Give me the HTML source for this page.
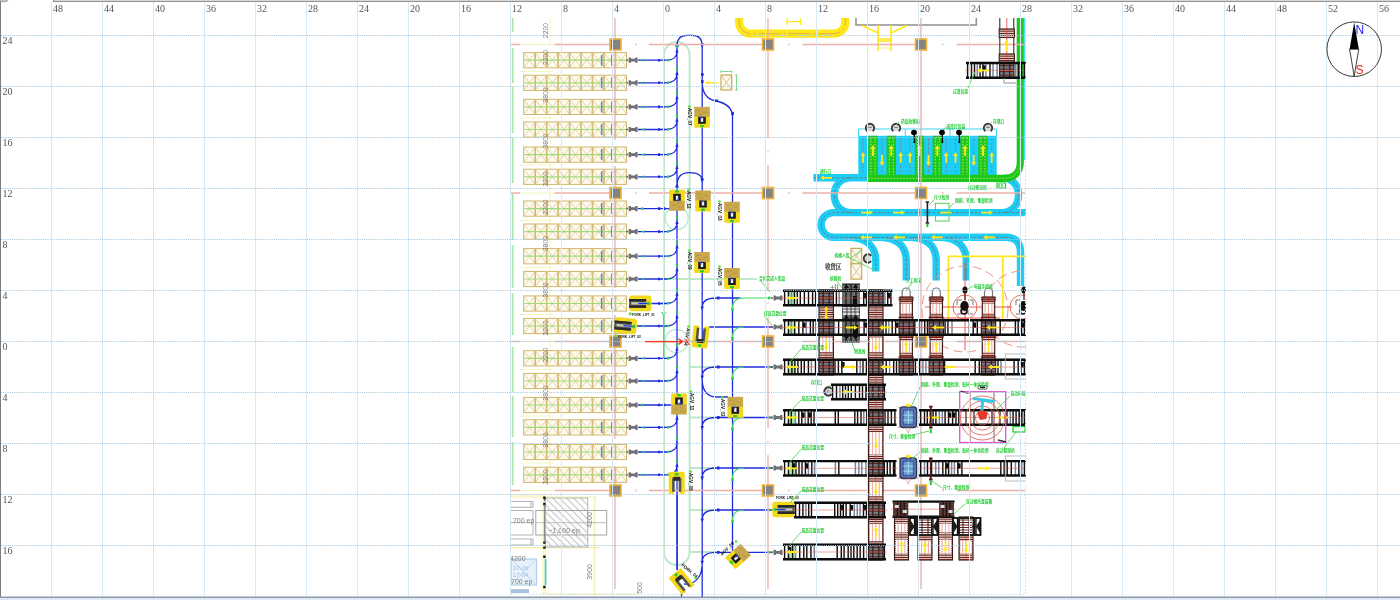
<!DOCTYPE html>
<html lang="zh"><head><meta charset="utf-8"><title>AGV layout</title>
<style>html,body{margin:0;padding:0;background:#fff;overflow:hidden}svg{display:block}</style></head>
<body><svg width="1400" height="600" viewBox="0 0 1400 600">
<rect width="1400" height="600" fill="#fff"/>
<defs>
<filter id="bl" x="-2%" y="-2%" width="104%" height="104%"><feGaussianBlur stdDeviation="0.7"/></filter>
<g id="rack">
 <rect x="0" y="-7.6" width="102.8" height="15.2" fill="#fdfaef" stroke="#d0b56c" stroke-width="1"/>
 <path d="M0,-7.6 L11.47,7.6 M0,7.6 L11.47,-7.6 M11.47,-7.6 L22.93,7.6 M11.47,7.6 L22.93,-7.6 M22.93,-7.6 L34.4,7.6 M22.93,7.6 L34.4,-7.6 M34.4,-7.6 L45.87,7.6 M34.4,7.6 L45.87,-7.6 M45.87,-7.6 L57.33,7.6 M45.87,7.6 L57.33,-7.6 M57.33,-7.6 L68.8,7.6 M57.33,7.6 L68.8,-7.6 M68.8,-7.6 L80.27,7.6 M68.8,7.6 L80.27,-7.6 M80.27,-7.6 L91.73,7.6 M80.27,7.6 L91.73,-7.6 M91.73,-7.6 L103.2,7.6 M91.73,7.6 L103.2,-7.6" stroke="#dcc68c" stroke-width="0.75" fill="none"/>
 <path d="M11.47,-7.6 V7.6 M22.93,-7.6 V7.6 M34.4,-7.6 V7.6 M45.87,-7.6 V7.6 M57.33,-7.6 V7.6 M68.8,-7.6 V7.6 M80.27,-7.6 V7.6 M91.73,-7.6 V7.6" stroke="#d4ba74" stroke-width="1.7" fill="none"/>
 <path d="M1,0 H102" stroke="#9fdc78" stroke-width="1.2"/>
 <path d="M78,-5.5 V5.5 M88.2,-5.5 V5.5" stroke="#76869a" stroke-width="1.6"/>
</g>
<g id="stop">
 <circle cx="-1.5" cy="0" r="1" fill="#666"/>
 <path d="M0,-2.6 h2 l0.8,1.2 h3.4 l0.8,-1.2 h2 v5.2 h-2 l-0.8,-1.2 h-3.4 l-0.8,1.2 h-2 z" fill="#707070"/>
</g>
<g id="col">
 <rect x="-5.5" y="-5.5" width="11" height="11" fill="#838383" stroke="#f0b134" stroke-width="1.6"/>
</g>
<g id="agv">
 <rect x="-7.8" y="-10.5" width="15.6" height="10.5" fill="#c9a84e"/>
 <path d="M-7.8,-0.5 h15.6 v10 q0,1 -1,1 h-13.6 q-1,0 -1,-1 z" fill="#f2d91c"/>
 <path d="M-6,-7 h5 M1,-5 h4 M-3,-3 h3" stroke="#b0913e" stroke-width="0.8"/>
 <rect x="-3.8" y="-0.5" width="7.6" height="7" fill="#1a1a22"/>
 <rect x="-1.2" y="0.5" width="2.4" height="4" fill="#f5f5ff"/>
 <rect x="-2" y="-1" width="1.4" height="3" fill="#3048d0"/>
 <ellipse cx="0" cy="8.8" rx="2.2" ry="1.2" fill="#22cc33"/>
</g>
<g id="fork">
 <rect x="-11.2" y="-7.8" width="22.4" height="15.6" rx="3" fill="#f2d91c"/>
 <rect x="-11.2" y="-4.4" width="17" height="8.8" fill="#55554f"/>
 <rect x="-9" y="-1.2" width="15" height="2.4" fill="#c8c8b8"/>
 <rect x="-11.2" y="-4.4" width="17" height="2.2" fill="#2a2a2a"/>
 <rect x="-11.2" y="2.2" width="17" height="2.2" fill="#2a2a2a"/>
 <circle cx="8.3" cy="0" r="1.7" fill="#22cc33"/>
 <path d="M-2,0 H7" stroke="#2233dd" stroke-width="1.2"/>
</g>
<g id="forkv">
 <path d="M-8,-11 h5.2 v13 h5.6 v-13 h5.2 v20 q0,2 -2,2 h-12 q-2,0 -2,-2 z" fill="#f2d91c"/>
 <rect x="-4.6" y="-9" width="2.6" height="14" fill="#55554f"/>
 <rect x="2" y="-9" width="2.6" height="14" fill="#55554f"/>
 <rect x="-3.4" y="2" width="6.8" height="4" fill="#2a2a2a"/>
 <ellipse cx="0" cy="8.6" rx="2" ry="1.3" fill="#22cc33"/>
</g>
<g id="mar">
 <!-- maroon roller patch 14.4 wide x 8 tall, origin top-left -->
 <path d="M0,0.6 h14.4 M0,2.3 h14.4 M0,4 h14.4 M0,5.7 h14.4 M0,7.4 h14.4" stroke="#7a2c22" stroke-width="1.1"/>
</g>
<g id="yup"><path d="M0,-6 l2.4,4 h-1.5 v7 h-1.8 v-7 h-1.5 z" fill="#ffe81a"/></g>
<g id="ydn"><path d="M0,6 l2.4,-4 h-1.5 v-7 h-1.8 v7 h-1.5 z" fill="#ffe81a"/></g>
<g id="yud"><path d="M0,-7 l2.4,3.6 h-1.5 v6.8 h1.5 l-2.4,3.6 l-2.4,-3.6 h1.5 v-6.8 h-1.5 z" fill="#ffe81a"/></g>
<g id="ylf"><path d="M-6,0 l4,-2.4 v1.5 h8 v1.8 h-8 v1.5 z" fill="#ffe81a"/></g>
<g id="yrt"><path d="M6,0 l-4,-2.4 v1.5 h-8 v1.8 h8 v1.5 z" fill="#ffe81a"/></g>
<g id="csym">
 <circle r="3.2" fill="#d8d8d8"/>
 <path d="M2.7,3.2 A4.2,4.2 0 1 0 -2.7,3.2" fill="none" stroke="#3a3a3a" stroke-width="1.9"/>
 <path d="M-1.6,-0.6 h3.2" stroke="#555" stroke-width="0.8"/>
</g>
<g id="hook">
 <ellipse cx="0" cy="0" rx="2.9" ry="2.7" fill="#050505"/>
 <path d="M0.2,2 L0.5,9" stroke="#050505" stroke-width="1.3" fill="none"/>
 <circle cx="0.3" cy="9.6" r="1.1" fill="#050505"/>
</g>
</defs>
<clipPath id="dc"><rect x="510" y="17.5" width="515.8" height="579.5"/></clipPath>
<g clip-path="url(#dc)"><g filter="url(#bl)">
<path d="M510.5,18 V594" stroke="#bfe6d0" stroke-width="1"/>
<path d="M512.6,18 V32 M512.6,48 V83 M512.6,87 V133 M512.6,138 V183 M512.6,194 V240 M512.6,245 V288 M512.6,293 V335 M512.6,347 V392 M512.6,396 V437 M512.6,442 V485 " stroke="#a9e5a9" stroke-width="1.7" fill="none"/>
<path d="M520,44.5 H554 M550,18 V46 M520,71.4 H553 M550,71 V480 M520,118 H553 M520,165 H553 M520,193 H553 M520,220.5 H553 M520,267.5 H553 M520,314.5 H553 M520,341.5 H553 M520,369.5 H553 M520,416 H553 M520,463 H553 M520,490.5 H553 " stroke="#f5f4bc" stroke-width="1" fill="none"/>
<use href="#rack" x="523.7" y="60.2"/>
<use href="#rack" x="523.7" y="82.8"/>
<use href="#rack" x="523.7" y="106.9"/>
<use href="#rack" x="523.7" y="129.5"/>
<use href="#rack" x="523.7" y="154.6"/>
<use href="#rack" x="523.7" y="176.8"/>
<use href="#rack" x="523.7" y="208.6"/>
<use href="#rack" x="523.7" y="231.6"/>
<use href="#rack" x="523.7" y="256.2"/>
<use href="#rack" x="523.7" y="279.0"/>
<use href="#rack" x="523.7" y="303.5"/>
<use href="#rack" x="523.7" y="326.0"/>
<use href="#rack" x="523.7" y="358.3"/>
<use href="#rack" x="523.7" y="381.0"/>
<use href="#rack" x="523.7" y="405.0"/>
<use href="#rack" x="523.7" y="427.4"/>
<use href="#rack" x="523.7" y="452.0"/>
<use href="#rack" x="523.7" y="474.8"/>
<rect x="664" y="42" width="25.6" height="523" rx="12.8" fill="none" stroke="#bfe7ca" stroke-width="2"/>
<path d="M664,279 H757 M690,367 H716 M690,417.5 H716 M690,468 H716 M690,510 H716 M690,552 H716 " stroke="#bfe7ca" stroke-width="1.8" fill="none"/>
<circle cx="676.7" cy="218" r="11.5" fill="none" stroke="#bfe7ca" stroke-width="1.4"/>
<circle cx="676.4" cy="341" r="11.5" fill="none" stroke="#bfe7ca" stroke-width="1.4"/>
<path d="M739,18 V22 A11.7,11.7 0 0 0 750.7,33.7 H834 A11.2,11.2 0 0 0 845.2,22.5 V18" fill="none" stroke="#ffe81a" stroke-width="8.2"/>
<path d="M739,18 V22 A11.7,11.7 0 0 0 750.7,33.7 H834 A11.2,11.2 0 0 0 845.2,22.5 V18" fill="none" stroke="#dca548" stroke-width="0.9" stroke-dasharray="22 3 2 3"/>
<path d="M787,18.5 V25 M800.5,18.5 V25 M787,21.7 H800.5" stroke="#ffe81a" stroke-width="1.3" fill="none"/>
<path d="M856,18 V25 H976.3 V18" stroke="#8f8f8f" stroke-width="1.5" fill="none"/>
<path d="M878,25 V51 M891,25 V51 M862,25.5 L878,33 M907,25.5 L891,33 M878,39 H891 M878,41 H891" stroke="#ffe81a" stroke-width="1.7" fill="none"/>
<path d="M878,48 H891" stroke="#f6ee8a" stroke-width="1.2" fill="none"/>
<rect x="721" y="75" width="10.7" height="15" fill="#fdf9ee" stroke="#c9a855" stroke-width="1.2"/>
<path d="M721,75 L731.7,90 M731.7,75 L721,90" stroke="#d3b873" stroke-width="0.8"/>
<path d="M721,71.5 H731.7 M721,70 V73 M731.7,70 V73 M736.5,75 V90 M735,75 H738 M735,90 H738" stroke="#7fd98a" stroke-width="1" fill="none"/>
<path d="M704.5,82.8 l4,-2 v1.3 h10 v1.4 h-10 v1.3 z" fill="#ffe81a"/>
<path d="M677,44 V570 M702.2,44 V597 M732.5,115 V551 M677,46 C677,38 681,35.3 687,35.3 H692.5 C698.5,35.3 702.2,38 702.2,46 M677,186 C677,176 682,172.6 689,172.6 C697,172.6 702.2,175 702.2,181 M702.2,82 C702.2,94 708,99.5 716,101 C726,103 732.5,108 732.5,117 M702.2,379 C702.2,390 707,396.5 716,397 H728 M638,60.2 H666.5 C672.5,60.2 677,57.2 677,51.2 M638,82.8 H666.5 C672.5,82.8 677,79.8 677,73.8 M638,106.9 H666.5 C672.5,106.9 677,103.9 677,97.9 M638,129.5 H666.5 C672.5,129.5 677,126.5 677,120.5 M638,154.6 H666.5 C672.5,154.6 677,151.6 677,145.6 M638,176.8 H666.5 C672.5,176.8 677,173.8 677,167.8 M638,208.6 H671 M638,231.6 H666.5 C672.5,231.6 677,228.6 677,222.6 M638,256.2 H666.5 C672.5,256.2 677,253.2 677,247.2 M638,279 H666.5 C672.5,279 677,276 677,270 M651,303.5 H666.5 C672.5,303.5 677,300.5 677,294.5 M637,326 H666.5 C672.5,326 677,323 677,317 M638,358.3 H666.5 C672.5,358.3 677,355.3 677,349.3 M638,381 H666.5 C672.5,381 677,378 677,372 M638,405 H671 M638,427.4 H666.5 C672.5,427.4 677,424.4 677,418.4 M638,452 H666.5 C672.5,452 677,449 677,443 M638,474.8 H666.5 C672.5,474.8 677,471.8 677,465.8 M740,298 H716 C708,298 702.2,301 702.2,307.5 M773,367 H716 C708,367 702.2,370 702.2,376.5 M773,417.5 H716 C708,417.5 702.2,420.5 702.2,427.0 M773,468 H716 C708,468 702.2,471 702.2,477.5 M773,510 H716 C708,510 702.2,513 702.2,519.5 M773,552.3 H716 C708,552.3 702.2,555.3 702.2,561.8 M773,327 H709 M684,584 C694,585 701.5,578 702,566 M681.5,590 V597 " stroke="#1f2fdc" stroke-width="1.3" fill="none"/>
<path d="M677.2,493 V570" stroke="#1f2fdc" stroke-width="1.3" fill="none"/>
<path d="M740,298 H769 M744,298 C737,298 732.5,301 732.5,308 M744,327 C737,327 732.5,330 732.5,337 M744,367 C737,367 732.5,370 732.5,377 M744,417.5 C737,417.5 732.5,420.5 732.5,427.5 M744,468 C737,468 732.5,471 732.5,478 M744,510 C737,510 732.5,513 732.5,520 " stroke="#3fd868" stroke-width="1.2" fill="none"/>
<path d="M677,48.7 l1.7,3.8 h-3.4 z M677,71.3 l1.7,3.8 h-3.4 z M677,95.4 l1.7,3.8 h-3.4 z M677,118.0 l1.7,3.8 h-3.4 z M677,143.1 l1.7,3.8 h-3.4 z M677,165.3 l1.7,3.8 h-3.4 z M677,220.1 l1.7,3.8 h-3.4 z M677,244.7 l1.7,3.8 h-3.4 z M677,267.5 l1.7,3.8 h-3.4 z M677,292.0 l1.7,3.8 h-3.4 z M677,314.5 l1.7,3.8 h-3.4 z M677,346.8 l1.7,3.8 h-3.4 z M677,369.5 l1.7,3.8 h-3.4 z M677,415.9 l1.7,3.8 h-3.4 z M677,440.5 l1.7,3.8 h-3.4 z M677,463.3 l1.7,3.8 h-3.4 z M702.2,310.5 l1.8,-4 h-3.6 z M702.2,379.5 l1.8,-4 h-3.6 z M702.2,430.0 l1.8,-4 h-3.6 z M702.2,480.5 l1.8,-4 h-3.6 z M702.2,522.5 l1.8,-4 h-3.6 z M702.2,564.8 l1.8,-4 h-3.6 z M702.2,48 l2,-4.4 h-4 z M677,42 l2,4.4 h-4 z M702.2,183 l2,-4.4 h-4 z M677,183 l2,4.4 h-4 z M658,58.9 h2.2 v2.6 h-2.2 z M662.5,59.2 h1.8 v2 h-1.8 z M658,81.5 h2.2 v2.6 h-2.2 z M662.5,81.8 h1.8 v2 h-1.8 z M658,105.6 h2.2 v2.6 h-2.2 z M662.5,105.9 h1.8 v2 h-1.8 z M658,128.2 h2.2 v2.6 h-2.2 z M662.5,128.5 h1.8 v2 h-1.8 z M658,153.3 h2.2 v2.6 h-2.2 z M662.5,153.6 h1.8 v2 h-1.8 z M658,175.5 h2.2 v2.6 h-2.2 z M662.5,175.8 h1.8 v2 h-1.8 z M658,207.3 h2.4 v2.6 h-2.4 z M663,207.3 h2.4 v2.6 h-2.4 z M658,230.3 h2.2 v2.6 h-2.2 z M662.5,230.6 h1.8 v2 h-1.8 z M658,254.9 h2.2 v2.6 h-2.2 z M662.5,255.2 h1.8 v2 h-1.8 z M658,277.7 h2.2 v2.6 h-2.2 z M662.5,278.0 h1.8 v2 h-1.8 z M658,302.2 h2.2 v2.6 h-2.2 z M662.5,302.5 h1.8 v2 h-1.8 z M658,324.7 h2.2 v2.6 h-2.2 z M662.5,325.0 h1.8 v2 h-1.8 z M658,357.0 h2.2 v2.6 h-2.2 z M662.5,357.3 h1.8 v2 h-1.8 z M658,379.7 h2.2 v2.6 h-2.2 z M662.5,380.0 h1.8 v2 h-1.8 z M658,403.7 h2.4 v2.6 h-2.4 z M663,403.7 h2.4 v2.6 h-2.4 z M658,426.1 h2.2 v2.6 h-2.2 z M662.5,426.4 h1.8 v2 h-1.8 z M658,450.7 h2.2 v2.6 h-2.2 z M662.5,451.0 h1.8 v2 h-1.8 z M658,473.5 h2.2 v2.6 h-2.2 z M662.5,473.8 h1.8 v2 h-1.8 z M717,296.6 h2.6 v2.8 h-2.6 z M717,365.6 h2.6 v2.8 h-2.6 z M717,416.1 h2.6 v2.8 h-2.6 z M717,466.6 h2.6 v2.8 h-2.6 z M717,508.6 h2.6 v2.8 h-2.6 z M717,550.9 h2.6 v2.8 h-2.6 z M701,73 h2.6 v3 h-2.6 z M701,80 h2.6 v3 h-2.6 z M715,99.5 h3 v2.6 h-3 z M731.3,112 h2.6 v3 h-2.6 z " fill="#1f2fdc"/>
<path d="M675.9,45.2 h2.2 v2.6 h-2.2 z M641.5,60.2 l3,-1.5 v3 z M667,58.9 h2.2 v2.4 h-2.2 z M675.9,67.8 h2.2 v2.6 h-2.2 z M641.5,82.8 l3,-1.5 v3 z M667,81.5 h2.2 v2.4 h-2.2 z M675.9,91.9 h2.2 v2.6 h-2.2 z M641.5,106.9 l3,-1.5 v3 z M667,105.6 h2.2 v2.4 h-2.2 z M675.9,114.5 h2.2 v2.6 h-2.2 z M641.5,129.5 l3,-1.5 v3 z M667,128.2 h2.2 v2.4 h-2.2 z M675.9,139.6 h2.2 v2.6 h-2.2 z M641.5,154.6 l3,-1.5 v3 z M667,153.3 h2.2 v2.4 h-2.2 z M675.9,161.8 h2.2 v2.6 h-2.2 z M641.5,176.8 l3,-1.5 v3 z M667,175.5 h2.2 v2.4 h-2.2 z M641,207.4 h2.6 v2.4 h-2.6 z M675.9,216.6 h2.2 v2.6 h-2.2 z M641.5,231.6 l3,-1.5 v3 z M667,230.3 h2.2 v2.4 h-2.2 z M675.9,241.2 h2.2 v2.6 h-2.2 z M641.5,256.2 l3,-1.5 v3 z M667,254.9 h2.2 v2.4 h-2.2 z M675.9,264.0 h2.2 v2.6 h-2.2 z M641.5,279.0 l3,-1.5 v3 z M667,277.7 h2.2 v2.4 h-2.2 z M675.9,288.5 h2.2 v2.6 h-2.2 z M641.5,303.5 l3,-1.5 v3 z M667,302.2 h2.2 v2.4 h-2.2 z M675.9,311.0 h2.2 v2.6 h-2.2 z M641.5,326.0 l3,-1.5 v3 z M667,324.7 h2.2 v2.4 h-2.2 z M675.9,343.3 h2.2 v2.6 h-2.2 z M641.5,358.3 l3,-1.5 v3 z M667,357.0 h2.2 v2.4 h-2.2 z M675.9,366.0 h2.2 v2.6 h-2.2 z M641.5,381.0 l3,-1.5 v3 z M667,379.7 h2.2 v2.4 h-2.2 z M641,403.8 h2.6 v2.4 h-2.6 z M675.9,412.4 h2.2 v2.6 h-2.2 z M641.5,427.4 l3,-1.5 v3 z M667,426.1 h2.2 v2.4 h-2.2 z M675.9,437.0 h2.2 v2.6 h-2.2 z M641.5,452.0 l3,-1.5 v3 z M667,450.7 h2.2 v2.4 h-2.2 z M675.9,459.8 h2.2 v2.6 h-2.2 z M641.5,474.8 l3,-1.5 v3 z M667,473.5 h2.2 v2.4 h-2.2 z M768,296.8 h2.4 v2.4 h-2.4 z M768,365.8 h2.4 v2.4 h-2.4 z M768,416.3 h2.4 v2.4 h-2.4 z M768,466.8 h2.4 v2.4 h-2.4 z M768,508.8 h2.4 v2.4 h-2.4 z M768,551.1 h2.4 v2.4 h-2.4 z M731.3,308.0 h2.4 v3 h-2.4 z M731.3,337.0 h2.4 v3 h-2.4 z M731.3,377.0 h2.4 v3 h-2.4 z M731.3,427.5 h2.4 v3 h-2.4 z M731.3,478.0 h2.4 v3 h-2.4 z M731.3,520.0 h2.4 v3 h-2.4 z " fill="#22cc55"/>
<use href="#stop" x="628.6" y="60.2"/>
<use href="#stop" x="628.6" y="82.8"/>
<use href="#stop" x="628.6" y="106.9"/>
<use href="#stop" x="628.6" y="129.5"/>
<use href="#stop" x="628.6" y="154.6"/>
<use href="#stop" x="628.6" y="176.8"/>
<use href="#stop" x="628.6" y="208.6"/>
<use href="#stop" x="628.6" y="231.6"/>
<use href="#stop" x="628.6" y="256.2"/>
<use href="#stop" x="628.6" y="279.0"/>
<use href="#stop" x="628.6" y="358.3"/>
<use href="#stop" x="628.6" y="381.0"/>
<use href="#stop" x="628.6" y="405.0"/>
<use href="#stop" x="628.6" y="427.4"/>
<use href="#stop" x="628.6" y="452.0"/>
<use href="#stop" x="628.6" y="474.8"/>
<use href="#stop" x="773.5" y="298"/>
<use href="#stop" x="773.5" y="327"/>
<use href="#stop" x="773.5" y="367"/>
<use href="#stop" x="773.5" y="417.5"/>
<use href="#stop" x="773.5" y="468"/>
<use href="#stop" x="773.5" y="552.3"/>
<path d="M858.5,136 V129 H996.5 V136 M905.3,129 V136 M950,129 V136" stroke="#3fd2f2" stroke-width="1" fill="none"/>
<rect x="858.3" y="135.8" width="138.4" height="40" fill="#1fcdf5"/>
<rect x="868.3" y="135.8" width="9.4" height="40" fill="#1ec81e"/>
<rect x="886.5999999999999" y="135.8" width="9.4" height="40" fill="#1ec81e"/>
<rect x="914.8" y="135.8" width="9.4" height="40" fill="#1ec81e"/>
<rect x="932.5999999999999" y="135.8" width="9.4" height="40" fill="#1ec81e"/>
<rect x="960.3" y="135.8" width="9.4" height="40" fill="#1ec81e"/>
<rect x="978.3" y="135.8" width="9.4" height="40" fill="#1ec81e"/>
<path d="M863,138 V174 M882,138 V174 M900.7,138 V174 M910,138 V174 M928.5,138 V174 M946.2,138 V174 M955.5,138 V174 M973.7,138 V174 M991.7,138 V174 " stroke="#6f8f9a" stroke-width="1" stroke-dasharray="3 1.5" fill="none"/>
<path d="M871,138 V181 M875,138 V181 M889.3,138 V181 M893.3,138 V181 M917.5,138 V181 M921.5,138 V181 M935.3,138 V181 M939.3,138 V181 M963,138 V181 M967,138 V181 M981,138 V181 M985,138 V181 " stroke="#b4e05a" stroke-width="1.1" stroke-dasharray="1.6 1.4" fill="none"/>
<use href="#yup" x="873" y="151"/>
<use href="#yup" x="891.3" y="151"/>
<use href="#yup" x="919.5" y="151"/>
<use href="#yup" x="937.3" y="151"/>
<use href="#yup" x="965" y="151"/>
<use href="#yup" x="983" y="151"/>
<use href="#yup" x="863" y="158"/>
<use href="#ydn" x="882" y="160"/>
<use href="#yup" x="900.7" y="158"/>
<use href="#yup" x="910" y="158"/>
<use href="#ydn" x="928.5" y="160"/>
<use href="#yup" x="946.2" y="158"/>
<use href="#yup" x="955.5" y="158"/>
<use href="#ydn" x="973.7" y="160"/>
<use href="#yup" x="991.7" y="158"/>
<path d="M813.5,177.8 H868 M851,177.8 C840,178 834.3,186 834.3,195 C834.3,204 840,212.3 851,212.6 M1028,212.6 H833.5 A12.35,12.35 0 0 0 833.5,237.3 H1006 C1016,237.3 1020.5,243 1020.5,252 V286 M1004,177.8 C1013,179 1018.5,186 1018.5,195 C1018.5,204 1013,212 1003,212.6 M850,237.3 C866,238 875.8,246 875.8,261 V271.5 M881,237.3 C897,238 906.3,246 906.3,261 V280.5 M911,237.3 C927,238 936.2,246 936.2,261 V280.5 M941,237.3 C957,238 966.3,246 966.3,261 V280.5 " stroke="#1fcdf5" stroke-width="7.4" fill="none"/>
<path d="M813.5,177.8 H868 M851,177.8 C840,178 834.3,186 834.3,195 C834.3,204 840,212.3 851,212.6 M1028,212.6 H833.5 A12.35,12.35 0 0 0 833.5,237.3 H1006 C1016,237.3 1020.5,243 1020.5,252 V286 M1004,177.8 C1013,179 1018.5,186 1018.5,195 C1018.5,204 1013,212 1003,212.6 M850,237.3 C866,238 875.8,246 875.8,261 V271.5 M881,237.3 C897,238 906.3,246 906.3,261 V280.5 M911,237.3 C927,238 936.2,246 936.2,261 V280.5 M941,237.3 C957,238 966.3,246 966.3,261 V280.5 " stroke="#5f8088" stroke-width="0.9" stroke-dasharray="3 1.6" fill="none"/>
<path d="M868,178.3 H1004 C1014,178.3 1020.3,172 1020.3,162 V18" stroke="#1ec81e" stroke-width="7.2" fill="none"/>
<path d="M868,178.3 H1004 C1014,178.3 1020.3,172 1020.3,162 V18" stroke="#a8dc50" stroke-width="1" stroke-dasharray="1.6 1.6" fill="none"/>
<path d="M1024.6,18 V160" stroke="#41e3f2" stroke-width="1.4" fill="none"/>
<use href="#ylf" x="826" y="177.8"/>
<use href="#yrt" x="867" y="212.6"/>
<use href="#yrt" x="899" y="212.6"/>
<use href="#yrt" x="946" y="212.6"/>
<use href="#yrt" x="987" y="212.6"/>
<use href="#ylf" x="866" y="237.3"/>
<use href="#ylf" x="899" y="237.3"/>
<use href="#ylf" x="937" y="237.3"/>
<use href="#ylf" x="989" y="237.3"/>
<use href="#hook" x="914" y="132.5"/>
<use href="#hook" x="942" y="132.5"/>
<use href="#hook" x="959" y="132.5"/>
<use href="#csym" x="870" y="128"/>
<use href="#csym" x="896" y="128"/>
<use href="#csym" x="988" y="128"/>
<use href="#csym" transform="translate(868,258.5) rotate(-90)"/>
<use href="#csym" transform="translate(828.5,391.5) rotate(-90)"/>
<path d="M927.4,202 V223 M925.6,202 H929.2 M925.6,223 H929.2" stroke="#222" stroke-width="1.6" fill="none"/>
<rect x="926.4" y="224" width="2" height="3" fill="#22cc33"/>
<rect x="935.4" y="203.3" width="13.6" height="17.7" fill="none" stroke="#55cc55" stroke-width="1"/>
<path d="M997,183 h8.5 v5 h-8.5 z M999,184 v3 M1002,184 v3" stroke="#22cc33" stroke-width="1.2" fill="none"/>
<rect x="851" y="248.4" width="10.7" height="15.3" fill="#fdf9ee" stroke="#c9a855" stroke-width="1.2"/>
<path d="M851,248.4 l10.7,15.3 M861.7,248.4 l-10.7,15.3" stroke="#d3b873" stroke-width="0.8"/>
<rect x="851" y="263.8" width="10.7" height="15.3" fill="#fdf9ee" stroke="#c9a855" stroke-width="1.2"/>
<path d="M851,263.8 l10.7,15.3 M861.7,263.8 l-10.7,15.3" stroke="#d3b873" stroke-width="0.8"/>
<rect x="838" y="17" width="0" height="0"/>
<path d="M1028,256.4 H948.4 V319 M1002.8,256.4 V319" stroke="#ffe81a" stroke-width="1.8" fill="none"/>
<circle cx="965" cy="309" r="43" fill="none" stroke="#e8958a" stroke-width="1" stroke-dasharray="9 5"/>
<circle cx="965" cy="307" r="12" fill="none" stroke="#e25a4a" stroke-width="0.9"/>
<circle cx="1022" cy="309" r="38" fill="none" stroke="#e8958a" stroke-width="1" stroke-dasharray="9 5"/>
<circle cx="1022" cy="307" r="12" fill="none" stroke="#e25a4a" stroke-width="0.9"/>
<path d="M925,307 H1012 M965,262 V350 M940,318 H1000" stroke="#e04a3a" stroke-width="0.9" fill="none"/>
<ellipse cx="965" cy="290" rx="2.6" ry="3.6" fill="#1a0a0a"/><path d="M965,293 V300" stroke="#7a2c22" stroke-width="1.4"/>
<path d="M957,300 h5 M968,300 h5 M957,300 v5 M973,300 v5 M957,314 h5 v-4 M973,314 h-5 v-4" stroke="#555" stroke-width="0.8" fill="none"/>
<ellipse cx="964.5" cy="306" rx="4.2" ry="5" fill="#151010"/><ellipse cx="964" cy="311" rx="3" ry="3" fill="none" stroke="#151010" stroke-width="1.5"/>
<ellipse cx="1024" cy="290" rx="2.6" ry="3.6" fill="#1a0a0a"/><path d="M1024,293 V300" stroke="#7a2c22" stroke-width="1.4"/>
<path d="M1016,300 h5 M1027,300 h5 M1016,300 v5 M1032,300 v5 M1016,314 h5 v-4 M1032,314 h-5 v-4" stroke="#555" stroke-width="0.8" fill="none"/>
<ellipse cx="1023.5" cy="306" rx="4.2" ry="5" fill="#151010"/><ellipse cx="1023" cy="311" rx="3" ry="3" fill="none" stroke="#151010" stroke-width="1.5"/>
<path d="M511,44.5 H520 M554.6,44.5 H609.5 M635,44.5 H636.5 M649,44.5 H762 M788,44.5 H789.5 M802.5,44.5 H915 M942,44.5 H943.5 M956.7,44.5 H1025 M511,193 H520 M554.6,193 H609.5 M635,193 H636.5 M649,193 H762 M788,193 H789.5 M802.5,193 H915 M942,193 H943.5 M956.7,193 H1025 M511,341.5 H520 M554.6,341.5 H609.5 M635,341.5 H636.5 M649,341.5 H762 M788,341.5 H789.5 M802.5,341.5 H915 M942,341.5 H943.5 M956.7,341.5 H1025 M511,490.5 H520 M554.6,490.5 H609.5 M635,490.5 H636.5 M649,490.5 H762 M788,490.5 H789.5 M802.5,490.5 H915 M942,490.5 H943.5 M956.7,490.5 H1025 M615,18 V140 M615,152 V153.5 M615,166 V288 M615,301 V302.5 M615,315 V439 M615,451.5 V453 M615,466 V589 M768,18 V138 M768,151 V152.5 M768,165 V290 M768,302.5 V304 M768,317 V428 M768,441 V442.5 M768,455 V589 M921,18 V589 " stroke="#ecb0a8" stroke-width="1.3" fill="none"/>
<use href="#col" x="615.5" y="44.5"/>
<use href="#col" x="615.5" y="193"/>
<use href="#col" x="615.5" y="341.5"/>
<use href="#col" x="615.5" y="490.5"/>
<use href="#col" x="768" y="44.5"/>
<use href="#col" x="768" y="193"/>
<use href="#col" x="768" y="341.5"/>
<use href="#col" x="768" y="490.5"/>
<use href="#col" x="921" y="44.5"/>
<use href="#col" x="921" y="193"/>
<use href="#col" x="921" y="341.5"/>
<use href="#col" x="921" y="490.5"/>
<path d="M999.8,18 V62 M1013.8,18 V62" stroke="#333" stroke-width="1.1"/>
<path d="M1006.8,18 V62" stroke="#e0463a" stroke-width="0.8"/>
<rect x="999.1999999999999" y="29" width="15.2" height="8.5" fill="#fff" stroke="#2a1512" stroke-width="1.1"/>
<path d="M999.1999999999999,30.0 h15.2 M999.1999999999999,31.8 h15.2 M999.1999999999999,33.6 h15.2 M999.1999999999999,35.4 h15.2 M999.1999999999999,37.2 h15.2 " stroke="#6c241b" stroke-width="1.05" fill="none"/>
<path d="M1006.8,28 V38.5" stroke="#e0463a" stroke-width="0.8" fill="none"/>
<rect x="999.1999999999999" y="54" width="15.2" height="8" fill="#fff" stroke="#2a1512" stroke-width="1.1"/>
<path d="M999.1999999999999,55.0 h15.2 M999.1999999999999,56.8 h15.2 M999.1999999999999,58.6 h15.2 M999.1999999999999,60.4 h15.2 " stroke="#6c241b" stroke-width="1.05" fill="none"/>
<path d="M1006.8,53 V63" stroke="#e0463a" stroke-width="0.8" fill="none"/>
<use href="#yup" x="1006.5" y="46"/>
<rect x="999.5999999999999" y="63.00000000000001" width="14.4" height="14.8" fill="#7c7c7c"/>
<path d="M999.5999999999999,65.6 h14.4 M999.5999999999999,69.2 h14.4 M999.5999999999999,71.6 h14.4 M999.5999999999999,75.2 h14.4 " stroke="#6c241b" stroke-width="1.3" fill="none"/>
<path d="M1001.8,66.2 h3.4 v2.2 h-3.4 z M1008.4,66.2 h3.4 v2.2 h-3.4 z M1001.8,72.60000000000001 h3.4 v2.2 h-3.4 z M1008.4,72.60000000000001 h3.4 v2.2 h-3.4 z" fill="#5f6f8c"/>
<path d="M999.5999999999999,63.00000000000001 V77.80000000000001 M1014.0,63.00000000000001 V77.80000000000001 M1003.8,63.00000000000001 V77.80000000000001 M1009.8,63.00000000000001 V77.80000000000001" stroke="#1a1a1a" stroke-width="1.1" fill="none"/>
<path d="M967.6,63.00000000000001 V77.80000000000001 M1024.4,63.00000000000001 V77.80000000000001 M971.5,63.00000000000001 V77.80000000000001 M974.5,63.00000000000001 V77.80000000000001 M980.1,63.00000000000001 V77.80000000000001 M982.9,63.00000000000001 V77.80000000000001 M990.0,63.00000000000001 V77.80000000000001 M1018.6,63.00000000000001 V77.80000000000001 M1021.6,63.00000000000001 V77.80000000000001 " stroke="#0a0a0a" stroke-width="1.4" fill="none"/>
<path d="M977.3,63.00000000000001 V77.80000000000001 M985.9,63.00000000000001 V77.80000000000001 M993.0,63.00000000000001 V77.80000000000001 M997.1,63.00000000000001 V77.80000000000001 M1015.6,63.00000000000001 V77.80000000000001 " stroke="#77869c" stroke-width="1.5" fill="none"/>
<path d="M982.9,65.4 h2.8 v5.4 h-2.8 z " fill="#0a0a0a"/>
<path d="M966,63.00000000000001 H1026 M966,77.80000000000001 H1026" stroke="#0a0a0a" stroke-width="2.4" fill="none"/>
<path d="M965,70.4 H1027" stroke="#e2544a" stroke-width="0.7" fill="none" opacity="0.75"/>
<use href="#ylf" x="983" y="70.4"/>
<path d="M1004,78 V83 H1016" stroke="#888" stroke-width="0.9" fill="none"/>
<rect x="819.0" y="290" width="14.4" height="85" fill="#fff" stroke="#2a1512" stroke-width="1.1"/>
<path d="M819.0,291.0 h14.4 M819.0,292.8 h14.4 M819.0,294.6 h14.4 M819.0,296.4 h14.4 M819.0,298.2 h14.4 M819.0,300.0 h14.4 M819.0,301.8 h14.4 M819.0,303.6 h14.4 M819.0,305.4 h14.4 M819.0,307.2 h14.4 M819.0,309.0 h14.4 M819.0,310.8 h14.4 M819.0,312.6 h14.4 M819.0,314.4 h14.4 M819.0,316.2 h14.4 M819.0,318.0 h14.4 M819.0,319.8 h14.4 M819.0,321.6 h14.4 M819.0,323.4 h14.4 M819.0,325.2 h14.4 M819.0,327.0 h14.4 M819.0,328.8 h14.4 M819.0,330.6 h14.4 M819.0,332.4 h14.4 M819.0,334.2 h14.4 M819.0,336.0 h14.4 M819.0,337.8 h14.4 M819.0,339.6 h14.4 M819.0,341.4 h14.4 M819.0,343.2 h14.4 M819.0,345.0 h14.4 M819.0,346.8 h14.4 M819.0,348.6 h14.4 M819.0,350.4 h14.4 M819.0,352.2 h14.4 M819.0,354.0 h14.4 M819.0,355.8 h14.4 M819.0,357.6 h14.4 M819.0,359.4 h14.4 M819.0,361.2 h14.4 M819.0,363.0 h14.4 M819.0,364.8 h14.4 M819.0,366.6 h14.4 M819.0,368.4 h14.4 M819.0,370.2 h14.4 M819.0,372.0 h14.4 M819.0,373.8 h14.4 " stroke="#6c241b" stroke-width="1.05" fill="none"/>
<path d="M826.2,289 V376" stroke="#e0463a" stroke-width="0.8" fill="none"/>
<rect x="868.5999999999999" y="290" width="14.4" height="270" fill="#fff" stroke="#2a1512" stroke-width="1.1"/>
<path d="M868.5999999999999,291.0 h14.4 M868.5999999999999,292.8 h14.4 M868.5999999999999,294.6 h14.4 M868.5999999999999,296.4 h14.4 M868.5999999999999,298.2 h14.4 M868.5999999999999,300.0 h14.4 M868.5999999999999,301.8 h14.4 M868.5999999999999,303.6 h14.4 M868.5999999999999,305.4 h14.4 M868.5999999999999,307.2 h14.4 M868.5999999999999,309.0 h14.4 M868.5999999999999,310.8 h14.4 M868.5999999999999,312.6 h14.4 M868.5999999999999,314.4 h14.4 M868.5999999999999,316.2 h14.4 M868.5999999999999,318.0 h14.4 M868.5999999999999,319.8 h14.4 M868.5999999999999,321.6 h14.4 M868.5999999999999,323.4 h14.4 M868.5999999999999,325.2 h14.4 M868.5999999999999,327.0 h14.4 M868.5999999999999,328.8 h14.4 M868.5999999999999,330.6 h14.4 M868.5999999999999,332.4 h14.4 M868.5999999999999,334.2 h14.4 M868.5999999999999,336.0 h14.4 M868.5999999999999,337.8 h14.4 M868.5999999999999,339.6 h14.4 M868.5999999999999,341.4 h14.4 M868.5999999999999,343.2 h14.4 M868.5999999999999,345.0 h14.4 M868.5999999999999,346.8 h14.4 M868.5999999999999,348.6 h14.4 M868.5999999999999,350.4 h14.4 M868.5999999999999,352.2 h14.4 M868.5999999999999,354.0 h14.4 M868.5999999999999,355.8 h14.4 M868.5999999999999,357.6 h14.4 M868.5999999999999,359.4 h14.4 M868.5999999999999,361.2 h14.4 M868.5999999999999,363.0 h14.4 M868.5999999999999,364.8 h14.4 M868.5999999999999,366.6 h14.4 M868.5999999999999,368.4 h14.4 M868.5999999999999,370.2 h14.4 M868.5999999999999,372.0 h14.4 M868.5999999999999,373.8 h14.4 M868.5999999999999,375.6 h14.4 M868.5999999999999,377.4 h14.4 M868.5999999999999,379.2 h14.4 M868.5999999999999,381.0 h14.4 M868.5999999999999,382.8 h14.4 M868.5999999999999,384.6 h14.4 M868.5999999999999,386.4 h14.4 M868.5999999999999,388.2 h14.4 M868.5999999999999,390.0 h14.4 M868.5999999999999,391.8 h14.4 M868.5999999999999,393.6 h14.4 M868.5999999999999,395.4 h14.4 M868.5999999999999,397.2 h14.4 M868.5999999999999,399.0 h14.4 M868.5999999999999,400.8 h14.4 M868.5999999999999,402.6 h14.4 M868.5999999999999,404.4 h14.4 M868.5999999999999,406.2 h14.4 M868.5999999999999,408.0 h14.4 M868.5999999999999,409.8 h14.4 M868.5999999999999,411.6 h14.4 M868.5999999999999,413.4 h14.4 M868.5999999999999,415.2 h14.4 M868.5999999999999,417.0 h14.4 M868.5999999999999,418.8 h14.4 M868.5999999999999,420.6 h14.4 M868.5999999999999,422.4 h14.4 M868.5999999999999,424.2 h14.4 M868.5999999999999,426.0 h14.4 M868.5999999999999,427.8 h14.4 M868.5999999999999,429.6 h14.4 M868.5999999999999,431.4 h14.4 M868.5999999999999,433.2 h14.4 M868.5999999999999,435.0 h14.4 M868.5999999999999,436.8 h14.4 M868.5999999999999,438.6 h14.4 M868.5999999999999,440.4 h14.4 M868.5999999999999,442.2 h14.4 M868.5999999999999,444.0 h14.4 M868.5999999999999,445.8 h14.4 M868.5999999999999,447.6 h14.4 M868.5999999999999,449.4 h14.4 M868.5999999999999,451.2 h14.4 M868.5999999999999,453.0 h14.4 M868.5999999999999,454.8 h14.4 M868.5999999999999,456.6 h14.4 M868.5999999999999,458.4 h14.4 M868.5999999999999,460.2 h14.4 M868.5999999999999,462.0 h14.4 M868.5999999999999,463.8 h14.4 M868.5999999999999,465.6 h14.4 M868.5999999999999,467.4 h14.4 M868.5999999999999,469.2 h14.4 M868.5999999999999,471.0 h14.4 M868.5999999999999,472.8 h14.4 M868.5999999999999,474.6 h14.4 M868.5999999999999,476.4 h14.4 M868.5999999999999,478.2 h14.4 M868.5999999999999,480.0 h14.4 M868.5999999999999,481.8 h14.4 M868.5999999999999,483.6 h14.4 M868.5999999999999,485.4 h14.4 M868.5999999999999,487.2 h14.4 M868.5999999999999,489.0 h14.4 M868.5999999999999,490.8 h14.4 M868.5999999999999,492.6 h14.4 M868.5999999999999,494.4 h14.4 M868.5999999999999,496.2 h14.4 M868.5999999999999,498.0 h14.4 M868.5999999999999,499.8 h14.4 M868.5999999999999,501.6 h14.4 M868.5999999999999,503.4 h14.4 M868.5999999999999,505.2 h14.4 M868.5999999999999,507.0 h14.4 M868.5999999999999,508.8 h14.4 M868.5999999999999,510.6 h14.4 M868.5999999999999,512.4 h14.4 M868.5999999999999,514.2 h14.4 M868.5999999999999,516.0 h14.4 M868.5999999999999,517.8 h14.4 M868.5999999999999,519.6 h14.4 M868.5999999999999,521.4 h14.4 M868.5999999999999,523.2 h14.4 M868.5999999999999,525.0 h14.4 M868.5999999999999,526.8 h14.4 M868.5999999999999,528.6 h14.4 M868.5999999999999,530.4 h14.4 M868.5999999999999,532.2 h14.4 M868.5999999999999,534.0 h14.4 M868.5999999999999,535.8 h14.4 M868.5999999999999,537.6 h14.4 M868.5999999999999,539.4 h14.4 M868.5999999999999,541.2 h14.4 M868.5999999999999,543.0 h14.4 M868.5999999999999,544.8 h14.4 M868.5999999999999,546.6 h14.4 M868.5999999999999,548.4 h14.4 M868.5999999999999,550.2 h14.4 M868.5999999999999,552.0 h14.4 M868.5999999999999,553.8 h14.4 M868.5999999999999,555.6 h14.4 M868.5999999999999,557.4 h14.4 M868.5999999999999,559.2 h14.4 " stroke="#6c241b" stroke-width="1.05" fill="none"/>
<path d="M875.8,289 V561" stroke="#e0463a" stroke-width="0.8" fill="none"/>
<path d="M902.2,297 v-5 a4,4 0 0 1 8,0 v5" stroke="#777" stroke-width="1.2" fill="#fff"/>
<rect x="900.0" y="297" width="12.4" height="78" fill="#fff" stroke="#2a1512" stroke-width="1.1"/>
<path d="M900.0,298.0 h12.4 M900.0,299.8 h12.4 M900.0,301.6 h12.4 M900.0,303.4 h12.4 M900.0,305.2 h12.4 M900.0,307.0 h12.4 M900.0,308.8 h12.4 M900.0,310.6 h12.4 M900.0,312.4 h12.4 M900.0,314.2 h12.4 M900.0,316.0 h12.4 M900.0,317.8 h12.4 M900.0,319.6 h12.4 M900.0,321.4 h12.4 M900.0,323.2 h12.4 M900.0,325.0 h12.4 M900.0,326.8 h12.4 M900.0,328.6 h12.4 M900.0,330.4 h12.4 M900.0,332.2 h12.4 M900.0,334.0 h12.4 M900.0,335.8 h12.4 M900.0,337.6 h12.4 M900.0,339.4 h12.4 M900.0,341.2 h12.4 M900.0,343.0 h12.4 M900.0,344.8 h12.4 M900.0,346.6 h12.4 M900.0,348.4 h12.4 M900.0,350.2 h12.4 M900.0,352.0 h12.4 M900.0,353.8 h12.4 M900.0,355.6 h12.4 M900.0,357.4 h12.4 M900.0,359.2 h12.4 M900.0,361.0 h12.4 M900.0,362.8 h12.4 M900.0,364.6 h12.4 M900.0,366.4 h12.4 M900.0,368.2 h12.4 M900.0,370.0 h12.4 M900.0,371.8 h12.4 M900.0,373.6 h12.4 " stroke="#6c241b" stroke-width="1.05" fill="none"/>
<path d="M906.2,296 V376" stroke="#e0463a" stroke-width="0.8" fill="none"/>
<path d="M898.6,297.8 h15.2 M898.6,299.8 h15.2 M898.6,317.5 h15.2 M898.6,337 h15.2 M898.6,357 h15.2" stroke="#6c241b" stroke-width="1.3"/>
<rect x="900.8000000000001" y="303.5" width="10.8" height="9.5" fill="#fff"/>
<path d="M906.2,303.5 V313 M902.8000000000001,303.5 V313 M909.6,303.5 V313" stroke="#e0665a" stroke-width="0.6"/>
<rect x="900.8000000000001" y="341" width="10.8" height="11.5" fill="#fff"/>
<path d="M906.2,341 V352.5 M902.8000000000001,341 V352.5 M909.6,341 V352.5" stroke="#e0665a" stroke-width="0.6"/>
<use href="#yup" x="906.2" y="346.8"/>
<path d="M932.3,297 v-5 a4,4 0 0 1 8,0 v5" stroke="#777" stroke-width="1.2" fill="#fff"/>
<rect x="930.0999999999999" y="297" width="12.4" height="78" fill="#fff" stroke="#2a1512" stroke-width="1.1"/>
<path d="M930.0999999999999,298.0 h12.4 M930.0999999999999,299.8 h12.4 M930.0999999999999,301.6 h12.4 M930.0999999999999,303.4 h12.4 M930.0999999999999,305.2 h12.4 M930.0999999999999,307.0 h12.4 M930.0999999999999,308.8 h12.4 M930.0999999999999,310.6 h12.4 M930.0999999999999,312.4 h12.4 M930.0999999999999,314.2 h12.4 M930.0999999999999,316.0 h12.4 M930.0999999999999,317.8 h12.4 M930.0999999999999,319.6 h12.4 M930.0999999999999,321.4 h12.4 M930.0999999999999,323.2 h12.4 M930.0999999999999,325.0 h12.4 M930.0999999999999,326.8 h12.4 M930.0999999999999,328.6 h12.4 M930.0999999999999,330.4 h12.4 M930.0999999999999,332.2 h12.4 M930.0999999999999,334.0 h12.4 M930.0999999999999,335.8 h12.4 M930.0999999999999,337.6 h12.4 M930.0999999999999,339.4 h12.4 M930.0999999999999,341.2 h12.4 M930.0999999999999,343.0 h12.4 M930.0999999999999,344.8 h12.4 M930.0999999999999,346.6 h12.4 M930.0999999999999,348.4 h12.4 M930.0999999999999,350.2 h12.4 M930.0999999999999,352.0 h12.4 M930.0999999999999,353.8 h12.4 M930.0999999999999,355.6 h12.4 M930.0999999999999,357.4 h12.4 M930.0999999999999,359.2 h12.4 M930.0999999999999,361.0 h12.4 M930.0999999999999,362.8 h12.4 M930.0999999999999,364.6 h12.4 M930.0999999999999,366.4 h12.4 M930.0999999999999,368.2 h12.4 M930.0999999999999,370.0 h12.4 M930.0999999999999,371.8 h12.4 M930.0999999999999,373.6 h12.4 " stroke="#6c241b" stroke-width="1.05" fill="none"/>
<path d="M936.3,296 V376" stroke="#e0463a" stroke-width="0.8" fill="none"/>
<path d="M928.6999999999999,297.8 h15.2 M928.6999999999999,299.8 h15.2 M928.6999999999999,317.5 h15.2 M928.6999999999999,337 h15.2 M928.6999999999999,357 h15.2" stroke="#6c241b" stroke-width="1.3"/>
<rect x="930.9" y="303.5" width="10.8" height="9.5" fill="#fff"/>
<path d="M936.3,303.5 V313 M932.9,303.5 V313 M939.6999999999999,303.5 V313" stroke="#e0665a" stroke-width="0.6"/>
<rect x="930.9" y="341" width="10.8" height="11.5" fill="#fff"/>
<path d="M936.3,341 V352.5 M932.9,341 V352.5 M939.6999999999999,341 V352.5" stroke="#e0665a" stroke-width="0.6"/>
<use href="#yup" x="936.3" y="346.8"/>
<path d="M984.5,297 v-5 a4,4 0 0 1 8,0 v5" stroke="#777" stroke-width="1.2" fill="#fff"/>
<rect x="982.3" y="297" width="12.4" height="78" fill="#fff" stroke="#2a1512" stroke-width="1.1"/>
<path d="M982.3,298.0 h12.4 M982.3,299.8 h12.4 M982.3,301.6 h12.4 M982.3,303.4 h12.4 M982.3,305.2 h12.4 M982.3,307.0 h12.4 M982.3,308.8 h12.4 M982.3,310.6 h12.4 M982.3,312.4 h12.4 M982.3,314.2 h12.4 M982.3,316.0 h12.4 M982.3,317.8 h12.4 M982.3,319.6 h12.4 M982.3,321.4 h12.4 M982.3,323.2 h12.4 M982.3,325.0 h12.4 M982.3,326.8 h12.4 M982.3,328.6 h12.4 M982.3,330.4 h12.4 M982.3,332.2 h12.4 M982.3,334.0 h12.4 M982.3,335.8 h12.4 M982.3,337.6 h12.4 M982.3,339.4 h12.4 M982.3,341.2 h12.4 M982.3,343.0 h12.4 M982.3,344.8 h12.4 M982.3,346.6 h12.4 M982.3,348.4 h12.4 M982.3,350.2 h12.4 M982.3,352.0 h12.4 M982.3,353.8 h12.4 M982.3,355.6 h12.4 M982.3,357.4 h12.4 M982.3,359.2 h12.4 M982.3,361.0 h12.4 M982.3,362.8 h12.4 M982.3,364.6 h12.4 M982.3,366.4 h12.4 M982.3,368.2 h12.4 M982.3,370.0 h12.4 M982.3,371.8 h12.4 M982.3,373.6 h12.4 " stroke="#6c241b" stroke-width="1.05" fill="none"/>
<path d="M988.5,296 V376" stroke="#e0463a" stroke-width="0.8" fill="none"/>
<path d="M980.9,297.8 h15.2 M980.9,299.8 h15.2 M980.9,317.5 h15.2 M980.9,337 h15.2 M980.9,357 h15.2" stroke="#6c241b" stroke-width="1.3"/>
<rect x="983.1" y="303.5" width="10.8" height="9.5" fill="#fff"/>
<path d="M988.5,303.5 V313 M985.1,303.5 V313 M991.9,303.5 V313" stroke="#e0665a" stroke-width="0.6"/>
<rect x="983.1" y="341" width="10.8" height="11.5" fill="#fff"/>
<path d="M988.5,341 V352.5 M985.1,341 V352.5 M991.9,341 V352.5" stroke="#e0665a" stroke-width="0.6"/>
<use href="#yup" x="988.5" y="346.8"/>
<use href="#yud" x="826.2" y="313"/>
<rect x="820.0" y="337.5" width="12.4" height="14.5" fill="#fff"/>
<path d="M826.2,337.5 V352 M822.8000000000001,337.5 V352 M829.6,337.5 V352" stroke="#e0665a" stroke-width="0.6"/>
<use href="#ydn" x="826.2" y="344.8"/>
<rect x="869.5999999999999" y="337.5" width="12.4" height="14.5" fill="#fff"/>
<path d="M875.8,337.5 V352 M872.4,337.5 V352 M879.1999999999999,337.5 V352" stroke="#e0665a" stroke-width="0.6"/>
<use href="#ydn" x="875.8" y="344.8"/>
<rect x="869.5999999999999" y="432" width="12.4" height="22.5" fill="#fff"/>
<path d="M875.8,432 V454.5 M872.4,432 V454.5 M879.1999999999999,432 V454.5" stroke="#e0665a" stroke-width="0.6"/>
<use href="#ydn" x="875.8" y="443.2"/>
<rect x="869.5999999999999" y="482" width="12.4" height="14" fill="#fff"/>
<path d="M875.8,482 V496 M872.4,482 V496 M879.1999999999999,482 V496" stroke="#e0665a" stroke-width="0.6"/>
<use href="#ydn" x="875.8" y="489.0"/>
<rect x="869.5999999999999" y="524" width="12.4" height="17" fill="#fff"/>
<path d="M875.8,524 V541 M872.4,524 V541 M879.1999999999999,524 V541" stroke="#e0665a" stroke-width="0.6"/>
<use href="#yup" x="875.8" y="532.5"/>
<rect x="842" y="284" width="18" height="58" fill="#6a6a6a"/>
<path d="M842,284 h18 M842,290 h18 M842,306 h18 M842,312 h18 M842,319 h18 M842,336 h18 M842,342 h18 M846,284 v58 M851,284 v58 M856,284 v58" stroke="#151515" stroke-width="1.2" fill="none"/>
<path d="M844,288 l2.5,-3.5 l2.5,3.5 z M853,288 l2.5,-3.5 l2.5,3.5 z M844,318.5 l2.5,-3.5 l2.5,3.5 z M853,318.5 l2.5,-3.5 l2.5,3.5 z M844,336 l2.5,3.5 l2.5,-3.5 z M853,336 l2.5,3.5 l2.5,-3.5 z" fill="#0a0a0a"/>
<rect x="843" y="307" width="16" height="8" fill="#fff" opacity="0.8"/>
<path d="M843,309 h16 M843,312 h16 M847,307 v8 M851,307 v8 M855,307 v8" stroke="#333" stroke-width="0.8"/>
<rect x="853" y="325" width="5" height="9" fill="#0a0a0a"/><rect x="853" y="296" width="4" height="8" fill="#0a0a0a"/>
<rect x="787.5" y="291.8" width="7.5" height="12.4" fill="#a8e8b0"/>
<rect x="819.0" y="290.8" width="14.4" height="14.4" fill="#7c7c7c"/>
<path d="M819.0,293.4 h14.4 M819.0,296.8 h14.4 M819.0,299.2 h14.4 M819.0,302.6 h14.4 " stroke="#6c241b" stroke-width="1.3" fill="none"/>
<path d="M821.2,293.8 h3.4 v2.2 h-3.4 z M827.8000000000001,293.8 h3.4 v2.2 h-3.4 z M821.2,300.2 h3.4 v2.2 h-3.4 z M827.8000000000001,300.2 h3.4 v2.2 h-3.4 z" fill="#5f6f8c"/>
<path d="M819.0,290.8 V305.2 M833.4000000000001,290.8 V305.2 M823.2,290.8 V305.2 M829.2,290.8 V305.2" stroke="#1a1a1a" stroke-width="1.1" fill="none"/>
<rect x="868.5999999999999" y="290.8" width="14.4" height="14.4" fill="#7c7c7c"/>
<path d="M868.5999999999999,293.4 h14.4 M868.5999999999999,296.8 h14.4 M868.5999999999999,299.2 h14.4 M868.5999999999999,302.6 h14.4 " stroke="#6c241b" stroke-width="1.3" fill="none"/>
<path d="M870.8,293.8 h3.4 v2.2 h-3.4 z M877.4,293.8 h3.4 v2.2 h-3.4 z M870.8,300.2 h3.4 v2.2 h-3.4 z M877.4,300.2 h3.4 v2.2 h-3.4 z" fill="#5f6f8c"/>
<path d="M868.5999999999999,290.8 V305.2 M883.0,290.8 V305.2 M872.8,290.8 V305.2 M878.8,290.8 V305.2" stroke="#1a1a1a" stroke-width="1.1" fill="none"/>
<path d="M784.6,290.8 V305.2 M890.9,290.8 V305.2 M788.5,290.8 V305.2 M794.5,290.8 V305.2 M797.3,290.8 V305.2 M800.3,290.8 V305.2 M804.4,290.8 V305.2 M808.5,290.8 V305.2 M812.6,290.8 V305.2 M815.6,290.8 V305.2 M836.4,290.8 V305.2 M863.7,290.8 V305.2 M866.5,290.8 V305.2 M887.7,290.8 V305.2 " stroke="#0a0a0a" stroke-width="1.4" fill="none"/>
<path d="M791.5,290.8 V305.2 M839.2,290.8 V305.2 M884.9,290.8 V305.2 " stroke="#77869c" stroke-width="1.5" fill="none"/>
<path d="M863.7,293 h2.8 v5.4 h-2.8 z M887.7,293 h2.8 v5.4 h-2.8 z " fill="#0a0a0a"/>
<path d="M783,290.8 H892.5 M783,305.2 H892.5" stroke="#0a0a0a" stroke-width="2.4" fill="none"/>
<path d="M782,298 H893.5" stroke="#e2544a" stroke-width="0.7" fill="none" opacity="0.75"/>
<rect x="787.5" y="321.3" width="7.5" height="12.4" fill="#a8e8b0"/>
<rect x="819.0" y="320.3" width="14.4" height="14.4" fill="#7c7c7c"/>
<path d="M819.0,322.9 h14.4 M819.0,326.3 h14.4 M819.0,328.7 h14.4 M819.0,332.1 h14.4 " stroke="#6c241b" stroke-width="1.3" fill="none"/>
<path d="M821.2,323.3 h3.4 v2.2 h-3.4 z M827.8000000000001,323.3 h3.4 v2.2 h-3.4 z M821.2,329.7 h3.4 v2.2 h-3.4 z M827.8000000000001,329.7 h3.4 v2.2 h-3.4 z" fill="#5f6f8c"/>
<path d="M819.0,320.3 V334.7 M833.4000000000001,320.3 V334.7 M823.2,320.3 V334.7 M829.2,320.3 V334.7" stroke="#1a1a1a" stroke-width="1.1" fill="none"/>
<rect x="868.5999999999999" y="320.3" width="14.4" height="14.4" fill="#7c7c7c"/>
<path d="M868.5999999999999,322.9 h14.4 M868.5999999999999,326.3 h14.4 M868.5999999999999,328.7 h14.4 M868.5999999999999,332.1 h14.4 " stroke="#6c241b" stroke-width="1.3" fill="none"/>
<path d="M870.8,323.3 h3.4 v2.2 h-3.4 z M877.4,323.3 h3.4 v2.2 h-3.4 z M870.8,329.7 h3.4 v2.2 h-3.4 z M877.4,329.7 h3.4 v2.2 h-3.4 z" fill="#5f6f8c"/>
<path d="M868.5999999999999,320.3 V334.7 M883.0,320.3 V334.7 M872.8,320.3 V334.7 M878.8,320.3 V334.7" stroke="#1a1a1a" stroke-width="1.1" fill="none"/>
<rect x="899.0" y="320.3" width="14.4" height="14.4" fill="#7c7c7c"/>
<path d="M899.0,322.9 h14.4 M899.0,326.3 h14.4 M899.0,328.7 h14.4 M899.0,332.1 h14.4 " stroke="#6c241b" stroke-width="1.3" fill="none"/>
<path d="M901.2,323.3 h3.4 v2.2 h-3.4 z M907.8000000000001,323.3 h3.4 v2.2 h-3.4 z M901.2,329.7 h3.4 v2.2 h-3.4 z M907.8000000000001,329.7 h3.4 v2.2 h-3.4 z" fill="#5f6f8c"/>
<path d="M899.0,320.3 V334.7 M913.4000000000001,320.3 V334.7 M903.2,320.3 V334.7 M909.2,320.3 V334.7" stroke="#1a1a1a" stroke-width="1.1" fill="none"/>
<rect x="929.0999999999999" y="320.3" width="14.4" height="14.4" fill="#7c7c7c"/>
<path d="M929.0999999999999,322.9 h14.4 M929.0999999999999,326.3 h14.4 M929.0999999999999,328.7 h14.4 M929.0999999999999,332.1 h14.4 " stroke="#6c241b" stroke-width="1.3" fill="none"/>
<path d="M931.3,323.3 h3.4 v2.2 h-3.4 z M937.9,323.3 h3.4 v2.2 h-3.4 z M931.3,329.7 h3.4 v2.2 h-3.4 z M937.9,329.7 h3.4 v2.2 h-3.4 z" fill="#5f6f8c"/>
<path d="M929.0999999999999,320.3 V334.7 M943.5,320.3 V334.7 M933.3,320.3 V334.7 M939.3,320.3 V334.7" stroke="#1a1a1a" stroke-width="1.1" fill="none"/>
<rect x="981.3" y="320.3" width="14.4" height="14.4" fill="#7c7c7c"/>
<path d="M981.3,322.9 h14.4 M981.3,326.3 h14.4 M981.3,328.7 h14.4 M981.3,332.1 h14.4 " stroke="#6c241b" stroke-width="1.3" fill="none"/>
<path d="M983.5,323.3 h3.4 v2.2 h-3.4 z M990.1,323.3 h3.4 v2.2 h-3.4 z M983.5,329.7 h3.4 v2.2 h-3.4 z M990.1,329.7 h3.4 v2.2 h-3.4 z" fill="#5f6f8c"/>
<path d="M981.3,320.3 V334.7 M995.7,320.3 V334.7 M985.5,320.3 V334.7 M991.5,320.3 V334.7" stroke="#1a1a1a" stroke-width="1.1" fill="none"/>
<path d="M784.6,320.3 V334.7 M1024.4,320.3 V334.7 M788.5,320.3 V334.7 M794.7,320.3 V334.7 M798.8,320.3 V334.7 M802.9,320.3 V334.7 M810.4,320.3 V334.7 M813.2,320.3 V334.7 M816.2,320.3 V334.7 M838.6,320.3 V334.7 M864.1,320.3 V334.7 M886.0,320.3 V334.7 M892.2,320.3 V334.7 M895.6,320.3 V334.7 M914.8,320.3 V334.7 M918.9,320.3 V334.7 M924.7,320.3 V334.7 M927.5,320.3 V334.7 M945.1,320.3 V334.7 M947.9,320.3 V334.7 M973.2,320.3 V334.7 M977.3,320.3 V334.7 M1000.2,320.3 V334.7 M1015.4,320.3 V334.7 M1018.2,320.3 V334.7 M1021.6,320.3 V334.7 " stroke="#0a0a0a" stroke-width="1.4" fill="none"/>
<path d="M791.3,320.3 V334.7 M806.3,320.3 V334.7 M834.5,320.3 V334.7 M867.1,320.3 V334.7 M888.8,320.3 V334.7 M921.7,320.3 V334.7 M952.0,320.3 V334.7 M969.1,320.3 V334.7 " stroke="#77869c" stroke-width="1.5" fill="none"/>
<path d="M802.9,322.5 h2.8 v5.4 h-2.8 z M864.1,322.5 h2.8 v5.4 h-2.8 z M895.6,322.5 h2.8 v5.4 h-2.8 z M973.2,322.5 h2.8 v5.4 h-2.8 z M1021.6,322.5 h2.8 v5.4 h-2.8 z " fill="#0a0a0a"/>
<path d="M783,320.3 H1026 M783,334.7 H1026" stroke="#0a0a0a" stroke-width="2.4" fill="none"/>
<path d="M782,327.5 H1027" stroke="#e2544a" stroke-width="0.7" fill="none" opacity="0.75"/>
<rect x="787.5" y="360.8" width="7.5" height="12.4" fill="#a8e8b0"/>
<rect x="819.0" y="359.8" width="14.4" height="14.4" fill="#7c7c7c"/>
<path d="M819.0,362.4 h14.4 M819.0,365.8 h14.4 M819.0,368.2 h14.4 M819.0,371.6 h14.4 " stroke="#6c241b" stroke-width="1.3" fill="none"/>
<path d="M821.2,362.8 h3.4 v2.2 h-3.4 z M827.8000000000001,362.8 h3.4 v2.2 h-3.4 z M821.2,369.2 h3.4 v2.2 h-3.4 z M827.8000000000001,369.2 h3.4 v2.2 h-3.4 z" fill="#5f6f8c"/>
<path d="M819.0,359.8 V374.2 M833.4000000000001,359.8 V374.2 M823.2,359.8 V374.2 M829.2,359.8 V374.2" stroke="#1a1a1a" stroke-width="1.1" fill="none"/>
<rect x="868.5999999999999" y="359.8" width="14.4" height="14.4" fill="#7c7c7c"/>
<path d="M868.5999999999999,362.4 h14.4 M868.5999999999999,365.8 h14.4 M868.5999999999999,368.2 h14.4 M868.5999999999999,371.6 h14.4 " stroke="#6c241b" stroke-width="1.3" fill="none"/>
<path d="M870.8,362.8 h3.4 v2.2 h-3.4 z M877.4,362.8 h3.4 v2.2 h-3.4 z M870.8,369.2 h3.4 v2.2 h-3.4 z M877.4,369.2 h3.4 v2.2 h-3.4 z" fill="#5f6f8c"/>
<path d="M868.5999999999999,359.8 V374.2 M883.0,359.8 V374.2 M872.8,359.8 V374.2 M878.8,359.8 V374.2" stroke="#1a1a1a" stroke-width="1.1" fill="none"/>
<rect x="899.0" y="359.8" width="14.4" height="14.4" fill="#7c7c7c"/>
<path d="M899.0,362.4 h14.4 M899.0,365.8 h14.4 M899.0,368.2 h14.4 M899.0,371.6 h14.4 " stroke="#6c241b" stroke-width="1.3" fill="none"/>
<path d="M901.2,362.8 h3.4 v2.2 h-3.4 z M907.8000000000001,362.8 h3.4 v2.2 h-3.4 z M901.2,369.2 h3.4 v2.2 h-3.4 z M907.8000000000001,369.2 h3.4 v2.2 h-3.4 z" fill="#5f6f8c"/>
<path d="M899.0,359.8 V374.2 M913.4000000000001,359.8 V374.2 M903.2,359.8 V374.2 M909.2,359.8 V374.2" stroke="#1a1a1a" stroke-width="1.1" fill="none"/>
<rect x="929.0999999999999" y="359.8" width="14.4" height="14.4" fill="#7c7c7c"/>
<path d="M929.0999999999999,362.4 h14.4 M929.0999999999999,365.8 h14.4 M929.0999999999999,368.2 h14.4 M929.0999999999999,371.6 h14.4 " stroke="#6c241b" stroke-width="1.3" fill="none"/>
<path d="M931.3,362.8 h3.4 v2.2 h-3.4 z M937.9,362.8 h3.4 v2.2 h-3.4 z M931.3,369.2 h3.4 v2.2 h-3.4 z M937.9,369.2 h3.4 v2.2 h-3.4 z" fill="#5f6f8c"/>
<path d="M929.0999999999999,359.8 V374.2 M943.5,359.8 V374.2 M933.3,359.8 V374.2 M939.3,359.8 V374.2" stroke="#1a1a1a" stroke-width="1.1" fill="none"/>
<rect x="981.3" y="359.8" width="14.4" height="14.4" fill="#7c7c7c"/>
<path d="M981.3,362.4 h14.4 M981.3,365.8 h14.4 M981.3,368.2 h14.4 M981.3,371.6 h14.4 " stroke="#6c241b" stroke-width="1.3" fill="none"/>
<path d="M983.5,362.8 h3.4 v2.2 h-3.4 z M990.1,362.8 h3.4 v2.2 h-3.4 z M983.5,369.2 h3.4 v2.2 h-3.4 z M990.1,369.2 h3.4 v2.2 h-3.4 z" fill="#5f6f8c"/>
<path d="M981.3,359.8 V374.2 M995.7,359.8 V374.2 M985.5,359.8 V374.2 M991.5,359.8 V374.2" stroke="#1a1a1a" stroke-width="1.1" fill="none"/>
<path d="M784.6,359.8 V374.2 M1024.4,359.8 V374.2 M788.5,359.8 V374.2 M791.9,359.8 V374.2 M794.9,359.8 V374.2 M797.9,359.8 V374.2 M801.3,359.8 V374.2 M804.3,359.8 V374.2 M808.4,359.8 V374.2 M815.5,359.8 V374.2 M835.0,359.8 V374.2 M838.4,359.8 V374.2 M841.8,359.8 V374.2 M856.8,359.8 V374.2 M863.0,359.8 V374.2 M866.4,359.8 V374.2 M886.2,359.8 V374.2 M893.7,359.8 V374.2 M896.5,359.8 V374.2 M915.4,359.8 V374.2 M919.5,359.8 V374.2 M944.6,359.8 V374.2 M975.2,359.8 V374.2 M979.3,359.8 V374.2 M998.0,359.8 V374.2 M1014.1,359.8 V374.2 M1018.2,359.8 V374.2 M1021.0,359.8 V374.2 " stroke="#0a0a0a" stroke-width="1.4" fill="none"/>
<path d="M811.4,359.8 V374.2 M860.2,359.8 V374.2 M889.6,359.8 V374.2 M922.9,359.8 V374.2 M925.9,359.8 V374.2 M1001.0,359.8 V374.2 " stroke="#77869c" stroke-width="1.5" fill="none"/>
<path d="M841.8,362 h2.8 v5.4 h-2.8 z M1021.0,362 h2.8 v5.4 h-2.8 z " fill="#0a0a0a"/>
<path d="M783,359.8 H1026 M783,374.2 H1026" stroke="#0a0a0a" stroke-width="2.4" fill="none"/>
<path d="M782,367 H1027" stroke="#e2544a" stroke-width="0.7" fill="none" opacity="0.75"/>
<rect x="868.5999999999999" y="384.8" width="14.4" height="14.4" fill="#7c7c7c"/>
<path d="M868.5999999999999,387.4 h14.4 M868.5999999999999,390.8 h14.4 M868.5999999999999,393.2 h14.4 M868.5999999999999,396.6 h14.4 " stroke="#6c241b" stroke-width="1.3" fill="none"/>
<path d="M870.8,387.8 h3.4 v2.2 h-3.4 z M877.4,387.8 h3.4 v2.2 h-3.4 z M870.8,394.2 h3.4 v2.2 h-3.4 z M877.4,394.2 h3.4 v2.2 h-3.4 z" fill="#5f6f8c"/>
<path d="M868.5999999999999,384.8 V399.2 M883.0,384.8 V399.2 M872.8,384.8 V399.2 M878.8,384.8 V399.2" stroke="#1a1a1a" stroke-width="1.1" fill="none"/>
<path d="M832.6,384.8 V399.2 M884.4,384.8 V399.2 M836.5,384.8 V399.2 M842.7,384.8 V399.2 M845.5,384.8 V399.2 M848.3,384.8 V399.2 M851.3,384.8 V399.2 M855.4,384.8 V399.2 M859.5,384.8 V399.2 M862.5,384.8 V399.2 M865.9,384.8 V399.2 " stroke="#0a0a0a" stroke-width="1.4" fill="none"/>
<path d="M839.9,384.8 V399.2 " stroke="#77869c" stroke-width="1.5" fill="none"/>
<path d="M865.9,387 h2.8 v5.4 h-2.8 z " fill="#0a0a0a"/>
<path d="M831,384.8 H886 M831,399.2 H886" stroke="#0a0a0a" stroke-width="2.4" fill="none"/>
<path d="M830,392 H887" stroke="#e2544a" stroke-width="0.7" fill="none" opacity="0.75"/>
<rect x="787.5" y="411.3" width="7.5" height="12.4" fill="#a8e8b0"/>
<rect x="868.5999999999999" y="410.3" width="14.4" height="14.4" fill="#7c7c7c"/>
<path d="M868.5999999999999,412.9 h14.4 M868.5999999999999,416.3 h14.4 M868.5999999999999,418.7 h14.4 M868.5999999999999,422.1 h14.4 " stroke="#6c241b" stroke-width="1.3" fill="none"/>
<path d="M870.8,413.3 h3.4 v2.2 h-3.4 z M877.4,413.3 h3.4 v2.2 h-3.4 z M870.8,419.7 h3.4 v2.2 h-3.4 z M877.4,419.7 h3.4 v2.2 h-3.4 z" fill="#5f6f8c"/>
<path d="M868.5999999999999,410.3 V424.7 M883.0,410.3 V424.7 M872.8,410.3 V424.7 M878.8,410.3 V424.7" stroke="#1a1a1a" stroke-width="1.1" fill="none"/>
<path d="M784.6,410.3 V424.7 M894.9,410.3 V424.7 M788.5,410.3 V424.7 M791.3,410.3 V424.7 M798.8,410.3 V424.7 M801.8,410.3 V424.7 M808.2,410.3 V424.7 M811.2,410.3 V424.7 M814.0,410.3 V424.7 M835.3,410.3 V424.7 M838.3,410.3 V424.7 M854.8,410.3 V424.7 M857.6,410.3 V424.7 M861.0,410.3 V424.7 M866.8,410.3 V424.7 M885.0,410.3 V424.7 M888.0,410.3 V424.7 M891.4,410.3 V424.7 " stroke="#0a0a0a" stroke-width="1.4" fill="none"/>
<path d="M795.4,410.3 V424.7 M805.2,410.3 V424.7 M863.8,410.3 V424.7 " stroke="#77869c" stroke-width="1.5" fill="none"/>
<path d="M801.8,412.5 h2.8 v5.4 h-2.8 z M808.2,412.5 h2.8 v5.4 h-2.8 z M866.8,412.5 h2.8 v5.4 h-2.8 z " fill="#0a0a0a"/>
<path d="M783,410.3 H896.5 M783,424.7 H896.5" stroke="#0a0a0a" stroke-width="2.4" fill="none"/>
<path d="M782,417.5 H897.5" stroke="#e2544a" stroke-width="0.7" fill="none" opacity="0.75"/>
<path d="M920.6,410.3 V424.7 M1024.4,410.3 V424.7 M924.5,410.3 V424.7 M927.3,410.3 V424.7 M930.3,410.3 V424.7 M933.1,410.3 V424.7 M935.9,410.3 V424.7 M945.1,410.3 V424.7 M948.5,410.3 V424.7 M952.6,410.3 V424.7 M956.0,410.3 V424.7 M958.8,410.3 V424.7 M1006.9,410.3 V424.7 M1013.1,410.3 V424.7 M1016.1,410.3 V424.7 M1019.1,410.3 V424.7 M1021.9,410.3 V424.7 " stroke="#0a0a0a" stroke-width="1.4" fill="none"/>
<path d="M939.3,410.3 V424.7 M942.3,410.3 V424.7 M1010.3,410.3 V424.7 " stroke="#77869c" stroke-width="1.5" fill="none"/>
<path d="M948.5,412.5 h2.8 v5.4 h-2.8 z M952.6,412.5 h2.8 v5.4 h-2.8 z M1019.1,412.5 h2.8 v5.4 h-2.8 z " fill="#0a0a0a"/>
<path d="M919,410.3 H1026 M919,424.7 H1026" stroke="#0a0a0a" stroke-width="2.4" fill="none"/>
<path d="M918,417.5 H1027" stroke="#e2544a" stroke-width="0.7" fill="none" opacity="0.75"/>
<rect x="787.5" y="462.1" width="7.5" height="12.4" fill="#a8e8b0"/>
<rect x="868.5999999999999" y="461.1" width="14.4" height="14.4" fill="#7c7c7c"/>
<path d="M868.5999999999999,463.7 h14.4 M868.5999999999999,467.1 h14.4 M868.5999999999999,469.5 h14.4 M868.5999999999999,472.9 h14.4 " stroke="#6c241b" stroke-width="1.3" fill="none"/>
<path d="M870.8,464.1 h3.4 v2.2 h-3.4 z M877.4,464.1 h3.4 v2.2 h-3.4 z M870.8,470.5 h3.4 v2.2 h-3.4 z M877.4,470.5 h3.4 v2.2 h-3.4 z" fill="#5f6f8c"/>
<path d="M868.5999999999999,461.1 V475.5 M883.0,461.1 V475.5 M872.8,461.1 V475.5 M878.8,461.1 V475.5" stroke="#1a1a1a" stroke-width="1.1" fill="none"/>
<path d="M784.6,461.1 V475.5 M894.9,461.1 V475.5 M788.5,461.1 V475.5 M792.6,461.1 V475.5 M796.0,461.1 V475.5 M799.0,461.1 V475.5 M802.0,461.1 V475.5 M805.4,461.1 V475.5 M811.8,461.1 V475.5 M838.8,461.1 V475.5 M884.3,461.1 V475.5 M887.3,461.1 V475.5 M890.1,461.1 V475.5 M893.5,461.1 V475.5 " stroke="#0a0a0a" stroke-width="1.4" fill="none"/>
<path d="M808.4,461.1 V475.5 M814.6,461.1 V475.5 M835.4,461.1 V475.5 M855.4,461.1 V475.5 M858.8,461.1 V475.5 M861.8,461.1 V475.5 M865.9,461.1 V475.5 " stroke="#77869c" stroke-width="1.5" fill="none"/>
<path d="M792.6,463.3 h2.8 v5.4 h-2.8 z M805.4,463.3 h2.8 v5.4 h-2.8 z " fill="#0a0a0a"/>
<path d="M783,461.1 H896.5 M783,475.5 H896.5" stroke="#0a0a0a" stroke-width="2.4" fill="none"/>
<path d="M782,468.3 H897.5" stroke="#e2544a" stroke-width="0.7" fill="none" opacity="0.75"/>
<path d="M920.6,461.1 V475.5 M1024.4,461.1 V475.5 M927.5,461.1 V475.5 M931.6,461.1 V475.5 M942.8,461.1 V475.5 M945.8,461.1 V475.5 M948.6,461.1 V475.5 M957.8,461.1 V475.5 M961.9,461.1 V475.5 M1000.8,461.1 V475.5 M1004.2,461.1 V475.5 M1007.2,461.1 V475.5 M1011.3,461.1 V475.5 M1018.8,461.1 V475.5 " stroke="#0a0a0a" stroke-width="1.4" fill="none"/>
<path d="M924.5,461.1 V475.5 M935.7,461.1 V475.5 M938.7,461.1 V475.5 M951.6,461.1 V475.5 M954.4,461.1 V475.5 M1015.4,461.1 V475.5 M1021.8,461.1 V475.5 " stroke="#77869c" stroke-width="1.5" fill="none"/>
<path d="M945.8,463.3 h2.8 v5.4 h-2.8 z M957.8,463.3 h2.8 v5.4 h-2.8 z " fill="#0a0a0a"/>
<path d="M919,461.1 H1026 M919,475.5 H1026" stroke="#0a0a0a" stroke-width="2.4" fill="none"/>
<path d="M918,468.3 H1027" stroke="#e2544a" stroke-width="0.7" fill="none" opacity="0.75"/>
<rect x="868.5999999999999" y="502.8" width="14.4" height="14.4" fill="#7c7c7c"/>
<path d="M868.5999999999999,505.4 h14.4 M868.5999999999999,508.8 h14.4 M868.5999999999999,511.2 h14.4 M868.5999999999999,514.6 h14.4 " stroke="#6c241b" stroke-width="1.3" fill="none"/>
<path d="M870.8,505.8 h3.4 v2.2 h-3.4 z M877.4,505.8 h3.4 v2.2 h-3.4 z M870.8,512.2 h3.4 v2.2 h-3.4 z M877.4,512.2 h3.4 v2.2 h-3.4 z" fill="#5f6f8c"/>
<path d="M868.5999999999999,502.8 V517.2 M883.0,502.8 V517.2 M872.8,502.8 V517.2 M878.8,502.8 V517.2" stroke="#1a1a1a" stroke-width="1.1" fill="none"/>
<path d="M795.6,502.8 V517.2 M884.4,502.8 V517.2 M799.5,502.8 V517.2 M802.9,502.8 V517.2 M808.7,502.8 V517.2 M811.5,502.8 V517.2 M834.7,502.8 V517.2 M837.7,502.8 V517.2 M840.5,502.8 V517.2 M843.3,502.8 V517.2 M846.1,502.8 V517.2 M850.2,502.8 V517.2 M863.5,502.8 V517.2 M866.5,502.8 V517.2 " stroke="#0a0a0a" stroke-width="1.4" fill="none"/>
<path d="M805.9,502.8 V517.2 M854.3,502.8 V517.2 M857.3,502.8 V517.2 M860.1,502.8 V517.2 " stroke="#77869c" stroke-width="1.5" fill="none"/>
<path d="M840.5,505 h2.8 v5.4 h-2.8 z M850.2,505 h2.8 v5.4 h-2.8 z M863.5,505 h2.8 v5.4 h-2.8 z " fill="#0a0a0a"/>
<path d="M794,502.8 H886 M794,517.2 H886" stroke="#0a0a0a" stroke-width="2.4" fill="none"/>
<path d="M793,510 H887" stroke="#e2544a" stroke-width="0.7" fill="none" opacity="0.75"/>
<rect x="787.5" y="545.8" width="7.5" height="12.4" fill="#a8e8b0"/>
<rect x="868.5999999999999" y="544.8" width="14.4" height="14.4" fill="#7c7c7c"/>
<path d="M868.5999999999999,547.4 h14.4 M868.5999999999999,550.8 h14.4 M868.5999999999999,553.2 h14.4 M868.5999999999999,556.6 h14.4 " stroke="#6c241b" stroke-width="1.3" fill="none"/>
<path d="M870.8,547.8 h3.4 v2.2 h-3.4 z M877.4,547.8 h3.4 v2.2 h-3.4 z M870.8,554.2 h3.4 v2.2 h-3.4 z M877.4,554.2 h3.4 v2.2 h-3.4 z" fill="#5f6f8c"/>
<path d="M868.5999999999999,544.8 V559.2 M883.0,544.8 V559.2 M872.8,544.8 V559.2 M878.8,544.8 V559.2" stroke="#1a1a1a" stroke-width="1.1" fill="none"/>
<path d="M784.6,544.8 V559.2 M884.4,544.8 V559.2 M788.5,544.8 V559.2 M792.6,544.8 V559.2 M799.7,544.8 V559.2 M803.8,544.8 V559.2 M806.8,544.8 V559.2 M810.9,544.8 V559.2 M837.2,544.8 V559.2 M841.3,544.8 V559.2 M844.1,544.8 V559.2 M848.2,544.8 V559.2 M851.0,544.8 V559.2 M853.8,544.8 V559.2 M857.2,544.8 V559.2 M860.2,544.8 V559.2 M863.6,544.8 V559.2 " stroke="#0a0a0a" stroke-width="1.4" fill="none"/>
<path d="M795.6,544.8 V559.2 M814.3,544.8 V559.2 M867.0,544.8 V559.2 " stroke="#77869c" stroke-width="1.5" fill="none"/>
<path d="M788.5,547 h2.8 v5.4 h-2.8 z " fill="#0a0a0a"/>
<path d="M783,544.8 H886 M783,559.2 H886" stroke="#0a0a0a" stroke-width="2.4" fill="none"/>
<path d="M782,552 H887" stroke="#e2544a" stroke-width="0.7" fill="none" opacity="0.75"/>
<path d="M966,410 V425 M974,410 V425 M992,410 V425 M1000,410 V425" stroke="#222" stroke-width="1.2"/>
<use href="#ylf" x="792" y="298"/>
<use href="#ylf" x="792" y="327.5"/>
<use href="#ylf" x="792" y="367"/>
<use href="#ylf" x="792" y="417.5"/>
<use href="#ylf" x="792" y="468.3"/>
<use href="#ylf" x="792" y="552"/>
<use href="#yrt" x="852" y="327.5"/>
<use href="#ylf" x="885" y="327.5"/>
<use href="#ylf" x="938" y="327.5"/>
<use href="#ylf" x="992" y="327.5"/>
<use href="#yrt" x="850" y="367"/>
<use href="#ylf" x="886" y="367"/>
<use href="#ylf" x="950" y="367"/>
<use href="#ylf" x="994" y="367"/>
<use href="#ylf" x="848" y="392"/>
<use href="#ylf" x="933" y="417.5"/>
<use href="#yrt" x="1003" y="417.5"/>
<use href="#yrt" x="984" y="468.3"/>
<rect x="900.0" y="406.9" width="16.6" height="20.6" rx="3" fill="#5873b4" stroke="#30344a" stroke-width="1.3"/>
<rect x="903.3" y="410.2" width="10" height="14" fill="#6c9fd0" stroke="#3a4a98" stroke-width="0.9"/>
<path d="M903.3,415.2 h10 M903.3,420.2 h10 M908.3,410.2 v14" stroke="#a8e0f0" stroke-width="0.9"/>
<ellipse cx="908.3" cy="405.2" rx="2.4" ry="1.8" fill="#ffe81a"/>
<path d="M906.3,428.2 h4 l-2,5 z" fill="#fff" stroke="#e28a9a" stroke-width="0.7"/>
<path d="M900.0,426.2 l-1.5,1.5 M916.5999999999999,426.2 l1.5,1.5 M900.0,408.2 l-1.5,-1.5" stroke="#cc3333" stroke-width="1"/>
<rect x="900.0" y="457.9" width="16.6" height="20.6" rx="3" fill="#5873b4" stroke="#30344a" stroke-width="1.3"/>
<rect x="903.3" y="461.2" width="10" height="14" fill="#6c9fd0" stroke="#3a4a98" stroke-width="0.9"/>
<path d="M903.3,466.2 h10 M903.3,471.2 h10 M908.3,461.2 v14" stroke="#a8e0f0" stroke-width="0.9"/>
<ellipse cx="908.3" cy="456.2" rx="2.4" ry="1.8" fill="#ffe81a"/>
<path d="M906.3,479.2 h4 l-2,5 z" fill="#fff" stroke="#e28a9a" stroke-width="0.7"/>
<path d="M900.0,477.2 l-1.5,1.5 M916.5999999999999,477.2 l1.5,1.5 M900.0,459.2 l-1.5,-1.5" stroke="#cc3333" stroke-width="1"/>
<path d="M930.8,406.7 V427.7 M929,406.7 h3.6 M929,427.7 h3.6" stroke="#5a1a14" stroke-width="1.8" fill="none"/>
<rect x="929.8" y="429.2" width="2" height="4" fill="#22cc33"/>
<path d="M930.8,458.5 V479.5 M929,458.5 h3.6 M929,479.5 h3.6" stroke="#5a1a14" stroke-width="1.8" fill="none"/>
<rect x="929.8" y="481" width="2" height="4" fill="#22cc33"/>
<rect x="959.7" y="391.7" width="46" height="50.8" fill="none" stroke="#e05ac8" stroke-width="1.3"/>
<path d="M970,392 V442 M994,392 V442" stroke="#8a4a55" stroke-width="0.9" fill="none"/>
<circle cx="982.5" cy="418" r="7" fill="none" stroke="#d9584a" stroke-width="0.8"/>
<circle cx="982.5" cy="418" r="12" fill="none" stroke="#d9584a" stroke-width="0.8"/>
<circle cx="982.5" cy="418" r="17" fill="none" stroke="#d9584a" stroke-width="0.8"/>
<circle cx="982.5" cy="418" r="22" fill="none" stroke="#d9584a" stroke-width="0.8"/>
<path d="M973,397 l22,3 l-1,3 l-10,-1 l-1,14 h-3 l1,-15 l-8,-1 z" fill="#38c8e6"/>
<path d="M977,413 l5,-3 l6,3 l-2,6 l-6,1 z" fill="#e23a2a"/>
<path d="M960.5,391 l8,2.5 M1006,442 l-8,-2" stroke="#333" stroke-width="1.3"/>
<rect x="978" y="385.5" width="9" height="3.6" rx="1" fill="#fff" stroke="#333" stroke-width="0.8"/><rect x="980" y="386.6" width="5" height="1.5" fill="#111"/>
<rect x="1005.3" y="354" width="24" height="25" fill="none" stroke="#b5b5b5" stroke-width="0.9"/>
<rect x="1005.3" y="456" width="24" height="25" fill="none" stroke="#b5b5b5" stroke-width="0.9"/>
<rect x="1013" y="426.6" width="12" height="5.4" fill="#e9ffe9" stroke="#22cc33" stroke-width="1.2"/>
<rect x="894.5" y="517" width="14" height="43" fill="#fff" stroke="#2a1512" stroke-width="1.1"/>
<path d="M894.5,518.0 h14 M894.5,519.8 h14 M894.5,521.6 h14 M894.5,523.4 h14 M894.5,525.2 h14 M894.5,527.0 h14 M894.5,528.8 h14 M894.5,530.6 h14 M894.5,532.4 h14 M894.5,534.2 h14 M894.5,536.0 h14 M894.5,537.8 h14 M894.5,539.6 h14 M894.5,541.4 h14 M894.5,543.2 h14 M894.5,545.0 h14 M894.5,546.8 h14 M894.5,548.6 h14 M894.5,550.4 h14 M894.5,552.2 h14 M894.5,554.0 h14 M894.5,555.8 h14 M894.5,557.6 h14 M894.5,559.4 h14 " stroke="#6c241b" stroke-width="1.05" fill="none"/>
<path d="M901.5,516 V561" stroke="#e0463a" stroke-width="0.8" fill="none"/>
<rect x="895.7" y="523.5" width="11.6" height="9.0" fill="#fff"/>
<path d="M901.5,523.5 V532.5 M898.1,523.5 V532.5 M904.9,523.5 V532.5" stroke="#e0665a" stroke-width="0.6"/>
<rect x="895.7" y="539.5" width="11.6" height="14.0" fill="#fff"/>
<path d="M901.5,539.5 V553.5 M898.1,539.5 V553.5 M904.9,539.5 V553.5" stroke="#e0665a" stroke-width="0.6"/>
<use href="#yup" x="901.5" y="546.5"/>
<rect x="918" y="517" width="14" height="43" fill="#fff" stroke="#2a1512" stroke-width="1.1"/>
<path d="M918,518.0 h14 M918,519.8 h14 M918,521.6 h14 M918,523.4 h14 M918,525.2 h14 M918,527.0 h14 M918,528.8 h14 M918,530.6 h14 M918,532.4 h14 M918,534.2 h14 M918,536.0 h14 M918,537.8 h14 M918,539.6 h14 M918,541.4 h14 M918,543.2 h14 M918,545.0 h14 M918,546.8 h14 M918,548.6 h14 M918,550.4 h14 M918,552.2 h14 M918,554.0 h14 M918,555.8 h14 M918,557.6 h14 M918,559.4 h14 " stroke="#6c241b" stroke-width="1.05" fill="none"/>
<path d="M925,516 V561" stroke="#e0463a" stroke-width="0.8" fill="none"/>
<rect x="919.2" y="541" width="11.6" height="12.5" fill="#fff"/>
<path d="M925,541 V553.5 M921.6,541 V553.5 M928.4,541 V553.5" stroke="#e0665a" stroke-width="0.6"/>
<use href="#yup" x="925" y="547.2"/>
<rect x="938.5" y="517" width="14" height="43" fill="#fff" stroke="#2a1512" stroke-width="1.1"/>
<path d="M938.5,518.0 h14 M938.5,519.8 h14 M938.5,521.6 h14 M938.5,523.4 h14 M938.5,525.2 h14 M938.5,527.0 h14 M938.5,528.8 h14 M938.5,530.6 h14 M938.5,532.4 h14 M938.5,534.2 h14 M938.5,536.0 h14 M938.5,537.8 h14 M938.5,539.6 h14 M938.5,541.4 h14 M938.5,543.2 h14 M938.5,545.0 h14 M938.5,546.8 h14 M938.5,548.6 h14 M938.5,550.4 h14 M938.5,552.2 h14 M938.5,554.0 h14 M938.5,555.8 h14 M938.5,557.6 h14 M938.5,559.4 h14 " stroke="#6c241b" stroke-width="1.05" fill="none"/>
<path d="M945.5,516 V561" stroke="#e0463a" stroke-width="0.8" fill="none"/>
<rect x="939.7" y="523.5" width="11.6" height="9.0" fill="#fff"/>
<path d="M945.5,523.5 V532.5 M942.1,523.5 V532.5 M948.9,523.5 V532.5" stroke="#e0665a" stroke-width="0.6"/>
<rect x="939.7" y="539.5" width="11.6" height="14.0" fill="#fff"/>
<path d="M945.5,539.5 V553.5 M942.1,539.5 V553.5 M948.9,539.5 V553.5" stroke="#e0665a" stroke-width="0.6"/>
<use href="#ydn" x="945.5" y="546.5"/>
<rect x="959" y="517" width="14" height="43" fill="#fff" stroke="#2a1512" stroke-width="1.1"/>
<path d="M959,518.0 h14 M959,519.8 h14 M959,521.6 h14 M959,523.4 h14 M959,525.2 h14 M959,527.0 h14 M959,528.8 h14 M959,530.6 h14 M959,532.4 h14 M959,534.2 h14 M959,536.0 h14 M959,537.8 h14 M959,539.6 h14 M959,541.4 h14 M959,543.2 h14 M959,545.0 h14 M959,546.8 h14 M959,548.6 h14 M959,550.4 h14 M959,552.2 h14 M959,554.0 h14 M959,555.8 h14 M959,557.6 h14 M959,559.4 h14 " stroke="#6c241b" stroke-width="1.05" fill="none"/>
<path d="M966,516 V561" stroke="#e0463a" stroke-width="0.8" fill="none"/>
<rect x="960.2" y="541" width="11.6" height="12.5" fill="#fff"/>
<path d="M966,541 V553.5 M962.6,541 V553.5 M969.4,541 V553.5" stroke="#e0665a" stroke-width="0.6"/>
<use href="#ydn" x="966" y="547.2"/>
<rect x="910" y="518" width="27.5" height="17" fill="#fff" stroke="#111" stroke-width="1.8"/>
<path d="M914.5,518 v17 M933,518 v17 M910,526.5 h27.5" stroke="#111" stroke-width="1.3" fill="none"/>
<path d="M910.5,520 l4,6.5 l-4,6.5 z M937,520 l-4,6.5 l4,6.5 z M915,519 h3 v15 h-3 z M929.5,519 h3 v15 h-3 z" fill="#1a1a1a"/>
<rect x="953" y="518" width="27.5" height="17" fill="#fff" stroke="#111" stroke-width="1.8"/>
<path d="M957.5,518 v17 M976,518 v17 M953,526.5 h27.5" stroke="#111" stroke-width="1.3" fill="none"/>
<path d="M953.5,520 l4,6.5 l-4,6.5 z M980,520 l-4,6.5 l4,6.5 z M958,519 h3 v15 h-3 z M972.5,519 h3 v15 h-3 z" fill="#1a1a1a"/>
<rect x="919" y="519" width="12" height="15" fill="#fff"/>
<path d="M919,520 h12 M919,522.5 h12 M919,525 h12 M919,527.5 h12 M919,530 h12 M919,532.5 h12 " stroke="#6c241b" stroke-width="1.1"/>
<path d="M922,519 v15 M928,519 v15" stroke="#222" stroke-width="1"/>
<rect x="960" y="519" width="12" height="15" fill="#fff"/>
<path d="M960,520 h12 M960,522.5 h12 M960,525 h12 M960,527.5 h12 M960,530 h12 M960,532.5 h12 " stroke="#6c241b" stroke-width="1.1"/>
<path d="M963,519 v15 M969,519 v15" stroke="#222" stroke-width="1"/>
<path d="M894.1,501.59999999999997 V516.8 M952.9,501.59999999999997 V516.8 " stroke="#0a0a0a" stroke-width="1.4" fill="none"/>
<path d="" stroke="#77869c" stroke-width="1.5" fill="none"/>
<path d="" fill="#0a0a0a"/>
<path d="M892.5,501.59999999999997 H954.5 M892.5,516.8 H954.5" stroke="#0a0a0a" stroke-width="2.4" fill="none"/>
<path d="M891.5,509.2 H955.5" stroke="#e2544a" stroke-width="0.7" fill="none" opacity="0.75"/>
<rect x="893.4" y="502" width="14.8" height="14.4" fill="#4a4a4a"/>
<path d="M893.4,503.6 h14.8 M893.4,506 h14.8 M893.4,508.4 h14.8 M893.4,510.8 h14.8 M893.4,513.2 h14.8 M893.4,515.4 h14.8 " stroke="#6c241b" stroke-width="1.3"/>
<path d="M897.4,502 v14.4 M904.1999999999999,502 v14.4 M900.8,502 v14.4" stroke="#111" stroke-width="1.1"/>
<rect x="894.8" y="505" width="4" height="3" fill="#ddd"/><rect x="902.8" y="510" width="4" height="3" fill="#ddd"/>
<rect x="939.1" y="502" width="14.8" height="14.4" fill="#4a4a4a"/>
<path d="M939.1,503.6 h14.8 M939.1,506 h14.8 M939.1,508.4 h14.8 M939.1,510.8 h14.8 M939.1,513.2 h14.8 M939.1,515.4 h14.8 " stroke="#6c241b" stroke-width="1.3"/>
<path d="M943.1,502 v14.4 M949.9,502 v14.4 M946.5,502 v14.4" stroke="#111" stroke-width="1.1"/>
<rect x="940.5" y="505" width="4" height="3" fill="#ddd"/><rect x="948.5" y="510" width="4" height="3" fill="#ddd"/>
<use href="#agv" transform="translate(702,117.3) rotate(0)"/>
<use href="#agv" transform="translate(677,200.3) rotate(180)"/>
<use href="#agv" transform="translate(703,201) rotate(0)"/>
<use href="#agv" transform="translate(732,212.2) rotate(0)"/>
<use href="#agv" transform="translate(702,262.5) rotate(0)"/>
<use href="#agv" transform="translate(732,278.5) rotate(0)"/>
<use href="#agv" transform="translate(679,404) rotate(180)"/>
<use href="#agv" transform="translate(735.3,407.3) rotate(0)"/>
<use href="#agv" transform="translate(738,556.5) rotate(48)"/>
<use href="#fork" x="640.3" y="303.4"/>
<use href="#fork" transform="translate(625.5,325.8) rotate(5)"/>
<use href="#fork" transform="translate(783.5,509.5) rotate(180)"/>
<use href="#forkv" transform="translate(700.5,337) rotate(6)"/>
<use href="#forkv" transform="translate(676.7,482.8) rotate(180)"/>
<use href="#forkv" transform="translate(681.5,581.5) rotate(141)"/>
<text transform="translate(688,108) rotate(90)" font-family="Liberation Sans,sans-serif" font-size="4.6" font-weight="bold" fill="#111">AGV_07</text>
<circle cx="689.5" cy="106.5" r="1.3" fill="#55dd33"/>
<text transform="translate(687,191) rotate(90)" font-family="Liberation Sans,sans-serif" font-size="4.6" font-weight="bold" fill="#111">AGV_12</text>
<circle cx="688.5" cy="189.5" r="1.3" fill="#55dd33"/>
<text transform="translate(718,203) rotate(90)" font-family="Liberation Sans,sans-serif" font-size="4.6" font-weight="bold" fill="#111">AGV_03</text>
<circle cx="719.5" cy="201.5" r="1.3" fill="#55dd33"/>
<text transform="translate(688,252) rotate(90)" font-family="Liberation Sans,sans-serif" font-size="4.6" font-weight="bold" fill="#111">AGV_09</text>
<circle cx="689.5" cy="250.5" r="1.3" fill="#55dd33"/>
<text transform="translate(718,268) rotate(90)" font-family="Liberation Sans,sans-serif" font-size="4.6" font-weight="bold" fill="#111">AGV_05</text>
<circle cx="719.5" cy="266.5" r="1.3" fill="#55dd33"/>
<text transform="translate(689.5,393) rotate(90)" font-family="Liberation Sans,sans-serif" font-size="4.6" font-weight="bold" fill="#111">AGV_11</text>
<circle cx="691.0" cy="391.5" r="1.3" fill="#55dd33"/>
<text transform="translate(721,399) rotate(90)" font-family="Liberation Sans,sans-serif" font-size="4.6" font-weight="bold" fill="#111">AGV_02</text>
<circle cx="722.5" cy="397.5" r="1.3" fill="#55dd33"/>
<text transform="translate(689,473) rotate(90)" font-family="Liberation Sans,sans-serif" font-size="4.6" font-weight="bold" fill="#111">AGV_06</text>
<circle cx="690.5" cy="471.5" r="1.3" fill="#55dd33"/>
<text transform="translate(687,328) rotate(100)" font-family="Liberation Sans,sans-serif" font-size="4.6" font-weight="bold" fill="#111">AGV_04</text>
<circle cx="688.5" cy="326.5" r="1.3" fill="#55dd33"/>
<text x="632" y="316.3" font-family="Liberation Sans,sans-serif" font-size="3.2" font-weight="bold" fill="#111">FORK_LIFT_01</text><rect x="629" y="312.6" width="2.6" height="2.6" fill="#55dd33"/>
<text x="618" y="338.3" font-family="Liberation Sans,sans-serif" font-size="3.2" font-weight="bold" fill="#111">FORK_LIFT_02</text><rect x="615" y="334.6" width="2.6" height="2.6" fill="#55dd33"/>
<text x="776" y="499.3" font-family="Liberation Sans,sans-serif" font-size="3.2" font-weight="bold" fill="#111">FORK_LIFT_03</text><rect x="791" y="497" width="2.6" height="2.6" fill="#55dd33"/>
<text transform="translate(722,556) rotate(-45)" font-family="Liberation Sans,sans-serif" font-size="4.6" font-weight="bold" fill="#111">AGV_08</text><circle cx="736" cy="541.5" r="1.3" fill="#55dd33"/>
<text transform="translate(681,565.5) rotate(40)" font-family="Liberation Sans,sans-serif" font-size="4.4" font-weight="bold" fill="#111">FORK_04</text><circle cx="695.5" cy="578" r="1.3" fill="#55dd33"/>
<rect x="511" y="494.5" width="35" height="3.5" fill="#fbf8cf"/>
<rect x="542.2" y="494" width="4" height="100" fill="#fbf7c8"/>
<path d="M594.7,497 V597 M511,547.6 H600 M546,497 H596 M546,594 H640" stroke="#f1f0a8" stroke-width="1.2" fill="none"/>
<clipPath id="hc"><rect x="545.5" y="498" width="42.3" height="49"/></clipPath>
<rect x="545.5" y="498" width="42.3" height="49" fill="#fcfcfc" stroke="#b5b5b5" stroke-width="1"/>
<path d="M496.5,498 l49,49 M503.5,498 l49,49 M510.5,498 l49,49 M517.5,498 l49,49 M524.5,498 l49,49 M531.5,498 l49,49 M538.5,498 l49,49 M545.5,498 l49,49 M552.5,498 l49,49 M559.5,498 l49,49 M566.5,498 l49,49 M573.5,498 l49,49 M580.5,498 l49,49 M587.5,498 l49,49 " stroke="#a9a9a9" stroke-width="0.9" clip-path="url(#hc)"/>
<rect x="535.8" y="510.5" width="70.9" height="24.5" fill="none" stroke="#a5a5a5" stroke-width="1"/>
<path d="M535.8,522.7 H606.7" stroke="#b5b5b5" stroke-width="0.9"/>
<path d="M511,501.4 H533 V507.3 H511 M531,501.4 V507.3 M511,510.5 H533 V535 H511 M511,522.7 H533 M511,539 H533 V545 H511 M531,539 V545" stroke="#b0b0b0" stroke-width="1" fill="none"/>
<path d="M544.4,497 v4" stroke="#333" stroke-width="0.8"/>
<path d="M543.2,496.6 h2.4 v2.4 h-2.4 z M543.2,502.8 h2.4 v2.4 h-2.4 z M543.2,541.4 h2.4 v2.4 h-2.4 z M543.2,546.4 h2.4 v2.4 h-2.4 z M543.2,555.5 h2.4 v2.4 h-2.4 z M543.2,585.8 h2.4 v2.4 h-2.4 z " fill="#111"/>
<path d="M544.4,504 V542.6" stroke="#666" stroke-width="0.8"/>
<path d="M545.6,559 V585" stroke="#22d0f0" stroke-width="1.6"/>
<rect x="511" y="559" width="25.4" height="26" fill="#e6f1fb" stroke="#a8c8e0" stroke-width="1"/>
<path d="M511,559 L536.4,585 M536.4,559 L511,585" stroke="#b8d4ea" stroke-width="0.9"/>
<rect x="511" y="589.2" width="18" height="3.8" fill="#a9c2dc"/>
<text x="511" y="522.6" font-family="Liberation Sans,sans-serif" font-size="7" fill="#808080" text-anchor="start" font-weight="normal">.700 ep</text>
<text x="548.5" y="532.6" font-family="Liberation Sans,sans-serif" font-size="7" fill="#808080" text-anchor="start" font-weight="normal">~1,000 ep</text>
<text x="592" y="520" transform="rotate(-90 592 520)" font-family="Liberation Sans,sans-serif" font-size="7" fill="#808080" text-anchor="middle" font-weight="normal">4200</text>
<text x="592" y="572" transform="rotate(-90 592 572)" font-family="Liberation Sans,sans-serif" font-size="7" fill="#808080" text-anchor="middle" font-weight="normal">3900</text>
<text x="510" y="560.5" font-family="Liberation Sans,sans-serif" font-size="7" fill="#808080" text-anchor="start" font-weight="normal">4200</text>
<text x="511" y="584" font-family="Liberation Sans,sans-serif" font-size="7" fill="#808080" text-anchor="start" font-weight="normal">700 ep</text>
<text x="513" y="570" font-family="Liberation Sans,sans-serif" font-size="6" fill="#a8c0dc" text-anchor="start" font-weight="normal">17-06</text>
<text x="513" y="577" font-family="Liberation Sans,sans-serif" font-size="6" fill="#a8c0dc" text-anchor="start" font-weight="normal">17-04</text>
<text x="642" y="588" transform="rotate(-90 642 588)" font-family="Liberation Sans,sans-serif" font-size="7" fill="#808080" text-anchor="middle" font-weight="normal">500</text>
<text x="547.6" y="30.5" transform="rotate(-90 547.6 30.5)" font-family="Liberation Sans,sans-serif" font-size="6.8" fill="#777" text-anchor="middle" font-weight="normal">2200</text>
<text x="547.6" y="57.5" transform="rotate(-90 547.6 57.5)" font-family="Liberation Sans,sans-serif" font-size="6.8" fill="#777" text-anchor="middle" font-weight="normal">2200</text>
<text x="547.6" y="95" transform="rotate(-90 547.6 95)" font-family="Liberation Sans,sans-serif" font-size="6.8" fill="#777" text-anchor="middle" font-weight="normal">3800</text>
<text x="547.6" y="141" transform="rotate(-90 547.6 141)" font-family="Liberation Sans,sans-serif" font-size="6.8" fill="#777" text-anchor="middle" font-weight="normal">3800</text>
<text x="547.6" y="179" transform="rotate(-90 547.6 179)" font-family="Liberation Sans,sans-serif" font-size="6.8" fill="#777" text-anchor="middle" font-weight="normal">2200</text>
<text x="547.6" y="207" transform="rotate(-90 547.6 207)" font-family="Liberation Sans,sans-serif" font-size="6.8" fill="#777" text-anchor="middle" font-weight="normal">2200</text>
<text x="547.6" y="243.5" transform="rotate(-90 547.6 243.5)" font-family="Liberation Sans,sans-serif" font-size="6.8" fill="#777" text-anchor="middle" font-weight="normal">3800</text>
<text x="547.6" y="290" transform="rotate(-90 547.6 290)" font-family="Liberation Sans,sans-serif" font-size="6.8" fill="#777" text-anchor="middle" font-weight="normal">3800</text>
<text x="547.6" y="328" transform="rotate(-90 547.6 328)" font-family="Liberation Sans,sans-serif" font-size="6.8" fill="#777" text-anchor="middle" font-weight="normal">2200</text>
<text x="547.6" y="355" transform="rotate(-90 547.6 355)" font-family="Liberation Sans,sans-serif" font-size="6.8" fill="#777" text-anchor="middle" font-weight="normal">2200</text>
<text x="547.6" y="393" transform="rotate(-90 547.6 393)" font-family="Liberation Sans,sans-serif" font-size="6.8" fill="#777" text-anchor="middle" font-weight="normal">3800</text>
<text x="547.6" y="440" transform="rotate(-90 547.6 440)" font-family="Liberation Sans,sans-serif" font-size="6.8" fill="#777" text-anchor="middle" font-weight="normal">3800</text>
<text x="547.6" y="477" transform="rotate(-90 547.6 477)" font-family="Liberation Sans,sans-serif" font-size="6.8" fill="#777" text-anchor="middle" font-weight="normal">2200</text>
<text transform="translate(953,93) scale(0.8,1)" font-family="Liberation Sans,Noto Sans CJK SC,sans-serif" font-size="4.7" font-weight="bold" fill="#22cc33">过渡台架</text>
<text transform="translate(901,123) scale(0.8,1)" font-family="Liberation Sans,Noto Sans CJK SC,sans-serif" font-size="4.7" font-weight="bold" fill="#22cc33">药品收集箱</text>
<text transform="translate(946.5,128) scale(0.8,1)" font-family="Liberation Sans,Noto Sans CJK SC,sans-serif" font-size="4.7" font-weight="bold" fill="#22cc33">成库打包装</text>
<text transform="translate(993,123) scale(0.8,1)" font-family="Liberation Sans,Noto Sans CJK SC,sans-serif" font-size="4.7" font-weight="bold" fill="#22cc33">存储口</text>
<text transform="translate(820,172.5) scale(0.8,1)" font-family="Liberation Sans,Noto Sans CJK SC,sans-serif" font-size="4.7" font-weight="bold" fill="#22cc33">通行口</text>
<text transform="translate(968,189) scale(0.8,1)" font-family="Liberation Sans,Noto Sans CJK SC,sans-serif" font-size="4.7" font-weight="bold" fill="#22cc33">自动搬运机</text>
<text transform="translate(934,199) scale(0.8,1)" font-family="Liberation Sans,Noto Sans CJK SC,sans-serif" font-size="4.7" font-weight="bold" fill="#22cc33">尺寸检测</text>
<text transform="translate(955,202) scale(0.8,1)" font-family="Liberation Sans,Noto Sans CJK SC,sans-serif" font-size="4.7" font-weight="bold" fill="#22cc33">捆绑、外观、重量检测</text>
<text transform="translate(834.5,256.5) scale(0.8,1)" font-family="Liberation Sans,Noto Sans CJK SC,sans-serif" font-size="4.7" font-weight="bold" fill="#22cc33">拆桶入库</text>
<text transform="translate(830,280) scale(0.8,1)" font-family="Liberation Sans,Noto Sans CJK SC,sans-serif" font-size="4.7" font-weight="bold" fill="#22cc33">拆膜机</text>
<text transform="translate(906,282) scale(0.8,1)" font-family="Liberation Sans,Noto Sans CJK SC,sans-serif" font-size="4.7" font-weight="bold" fill="#22cc33">人工拆垛</text>
<text transform="translate(974,287.5) scale(0.8,1)" font-family="Liberation Sans,Noto Sans CJK SC,sans-serif" font-size="4.7" font-weight="bold" fill="#22cc33">电磁手抓机</text>
<text transform="translate(759,279.5) scale(0.8,1)" font-family="Liberation Sans,Noto Sans CJK SC,sans-serif" font-size="4.7" font-weight="bold" fill="#22cc33">合同完成入库品</text>
<text transform="translate(764,315) scale(0.8,1)" font-family="Liberation Sans,Noto Sans CJK SC,sans-serif" font-size="4.7" font-weight="bold" fill="#22cc33">成品货盘位置</text>
<text transform="translate(801.5,348.5) scale(0.8,1)" font-family="Liberation Sans,Noto Sans CJK SC,sans-serif" font-size="4.7" font-weight="bold" fill="#22cc33">成品货盘位置</text>
<text transform="translate(801.5,399.5) scale(0.8,1)" font-family="Liberation Sans,Noto Sans CJK SC,sans-serif" font-size="4.7" font-weight="bold" fill="#22cc33">成品货盘位置</text>
<text transform="translate(801.5,449) scale(0.8,1)" font-family="Liberation Sans,Noto Sans CJK SC,sans-serif" font-size="4.7" font-weight="bold" fill="#22cc33">成品货盘位置</text>
<text transform="translate(801.5,490.5) scale(0.8,1)" font-family="Liberation Sans,Noto Sans CJK SC,sans-serif" font-size="4.7" font-weight="bold" fill="#22cc33">成品货盘位置</text>
<text transform="translate(801.5,531.5) scale(0.8,1)" font-family="Liberation Sans,Noto Sans CJK SC,sans-serif" font-size="4.7" font-weight="bold" fill="#22cc33">成品货盘位置</text>
<text transform="translate(854,352.5) scale(0.8,1)" font-family="Liberation Sans,Noto Sans CJK SC,sans-serif" font-size="4.7" font-weight="bold" fill="#22cc33">物流线</text>
<text transform="translate(811,384) scale(0.8,1)" font-family="Liberation Sans,Noto Sans CJK SC,sans-serif" font-size="4.7" font-weight="bold" fill="#22cc33">存储口</text>
<text transform="translate(921,386) scale(0.8,1)" font-family="Liberation Sans,Noto Sans CJK SC,sans-serif" font-size="4.7" font-weight="bold" fill="#22cc33">捆绑、外观、重量检测、贴码一体化检测</text>
<text transform="translate(921,451.5) scale(0.8,1)" font-family="Liberation Sans,Noto Sans CJK SC,sans-serif" font-size="4.7" font-weight="bold" fill="#22cc33">捆绑、外观、重量检测、贴码一体化检测</text>
<text transform="translate(1010.5,395) scale(0.8,1)" font-family="Liberation Sans,Noto Sans CJK SC,sans-serif" font-size="4.7" font-weight="bold" fill="#22cc33">自动码垛</text>
<text transform="translate(996,452) scale(0.8,1)" font-family="Liberation Sans,Noto Sans CJK SC,sans-serif" font-size="4.7" font-weight="bold" fill="#22cc33">自动套膜机</text>
<text transform="translate(889,438) scale(0.8,1)" font-family="Liberation Sans,Noto Sans CJK SC,sans-serif" font-size="4.7" font-weight="bold" fill="#22cc33">尺寸、重量检测</text>
<text transform="translate(943,489) scale(0.8,1)" font-family="Liberation Sans,Noto Sans CJK SC,sans-serif" font-size="4.7" font-weight="bold" fill="#22cc33">尺寸、重量检测</text>
<text transform="translate(966,503) scale(0.8,1)" font-family="Liberation Sans,Noto Sans CJK SC,sans-serif" font-size="4.7" font-weight="bold" fill="#22cc33">自动换托盘装备</text>
<text transform="translate(825.3,268.5) scale(0.72,1)" font-family="Liberation Serif,Noto Serif CJK SC,serif" font-size="7.4" fill="#1a1a1a" stroke="#1a1a1a" stroke-width="0.25">收货区</text>
<text x="830" y="290" font-family="Liberation Serif,serif" font-size="8" fill="#555">±0</text>
<path d="M975,72 L968,88 M899,122 L896,125 M946,127 L943,130 M992,122 L989,125 M848,257 L876,271 M862,250 L851,258 M837,281 L842,288 M912,283 L906,291 M973,286 L968,289 M760,280 L770,292 M764,316 L772,325 M801,349 L790,362 M801,400 L790,412 M801,449.5 L790,462 M801,491 L790,503 M801,532 L790,545 M855,351 L852,343 M829,385 L832,388 M934,200 L929,205 M954,203 L949,208 M920,387 L911,407 M920,452 L912,459 M1010,396 L996,410 M1004,448 L1016,432 M905,437 L929,431 M942,488 L932,481 M965,504 L954,514" stroke="#55d060" stroke-width="0.9" fill="none"/>
</g></g>
<rect x="1025.5" y="18" width="3" height="577" fill="#fff" opacity="0.0"/>
<path d="M51.5,2 V597 M102.5,2 V597 M153.5,2 V597 M204.5,2 V597 M255.5,2 V597 M306.5,2 V597 M357.5,2 V597 M408.5,2 V597 M459.5,2 V597 M510.5,2 V597 M561.5,2 V597 M612.5,2 V597 M663.5,2 V597 M714.5,2 V597 M765.5,2 V597 M816.5,2 V597 M867.5,2 V597 M918.5,2 V597 M969.5,2 V597 M1020.5,2 V597 M1071.5,2 V597 M1122.5,2 V597 M1173.5,2 V597 M1224.5,2 V597 M1275.5,2 V597 M1326.5,2 V597 M1377.5,2 V597 " stroke="#d7e9f4" stroke-width="1" fill="none"/>
<path d="M1,35.5 H1400 M1,86.5 H1400 M1,137.5 H1400 M1,188.5 H1400 M1,239.5 H1400 M1,290.5 H1400 M1,341.5 H1400 M1,392.5 H1400 M1,443.5 H1400 M1,494.5 H1400 M1,545.5 H1400 " stroke="#a6c9e1" stroke-width="1" stroke-dasharray="1.1 1.1" fill="none"/>
<path d="M1025.5,18 V594 M511,594 H1026" stroke="#cfe5f2" stroke-width="1" stroke-dasharray="2 1.5" fill="none"/>
<g font-family="Liberation Serif,serif" font-size="10" fill="#555"><text x="53" y="12">48</text><text x="104" y="12">44</text><text x="155" y="12">40</text><text x="206" y="12">36</text><text x="257" y="12">32</text><text x="308" y="12">28</text><text x="359" y="12">24</text><text x="410" y="12">20</text><text x="461" y="12">16</text><text x="512" y="12">12</text><text x="563" y="12">8</text><text x="614" y="12">4</text><text x="665" y="12">0</text><text x="716" y="12">4</text><text x="767" y="12">8</text><text x="818" y="12">12</text><text x="869" y="12">16</text><text x="920" y="12">20</text><text x="971" y="12">24</text><text x="1022" y="12">28</text><text x="1073" y="12">32</text><text x="1124" y="12">36</text><text x="1175" y="12">40</text><text x="1226" y="12">44</text><text x="1277" y="12">48</text><text x="1328" y="12">52</text><text x="1379" y="12">56</text><text x="2.5" y="44.2">24</text><text x="2.5" y="95.2">20</text><text x="2.5" y="146.2">16</text><text x="2.5" y="197.2">12</text><text x="2.5" y="248.2">8</text><text x="2.5" y="299.2">4</text><text x="2.5" y="350.2">0</text><text x="2.5" y="401.2">4</text><text x="2.5" y="452.2">8</text><text x="2.5" y="503.2">12</text><text x="2.5" y="554.2">16</text></g>
<path d="M663.75,318 V358" stroke="#3ee08a" stroke-width="1.4" fill="none"/>
<path d="M645,341.6 H682 M678.5,338.8 L682.6,341.6 L678.5,344.4" stroke="#f03a22" stroke-width="1.4" fill="none"/>
<text x="684" y="345" font-family="Liberation Serif,serif" font-size="9" fill="#f03a22">X</text>
<text x="660.4" y="318" font-family="Liberation Serif,serif" font-size="9" fill="#2fd07a">Y</text>
<rect x="0" y="0" width="1" height="598" fill="#7c7c7c"/>
<rect x="53" y="0" width="1347" height="1" fill="#e2e2e2"/><rect x="53" y="0.9" width="1347" height="0.9" fill="#7a7a7a"/><rect x="53" y="0" width="0.9" height="1.8" fill="#7a7a7a"/>
<path d="M0,0 H7.6 V0.3 Q7.4,1.7 5.6,1.7 H0 Z" fill="#e6e6e6" stroke="#808080" stroke-width="0.7"/>
<rect x="0" y="596.5" width="1400" height="1.6" fill="#8d9aab"/><rect x="0" y="598" width="1400" height="2" fill="#dfe7f3"/>
<circle cx="1354.2" cy="49.2" r="27.3" fill="none" stroke="#222" stroke-width="0.9"/>
<path d="M1354.2,22.5 L1358.8,49.2 H1349.6 Z" fill="#000"/>
<path d="M1349.6,49.2 H1358.8 L1354.2,76.2 Z" fill="#fff" stroke="#111" stroke-width="0.8"/>
<text x="1355.5" y="33.5" font-family="Liberation Sans,sans-serif" font-size="12" fill="#2222ee">N</text>
<text x="1355.5" y="74" font-family="Liberation Sans,sans-serif" font-size="12" fill="#ee2211">S</text>
</svg></body></html>
